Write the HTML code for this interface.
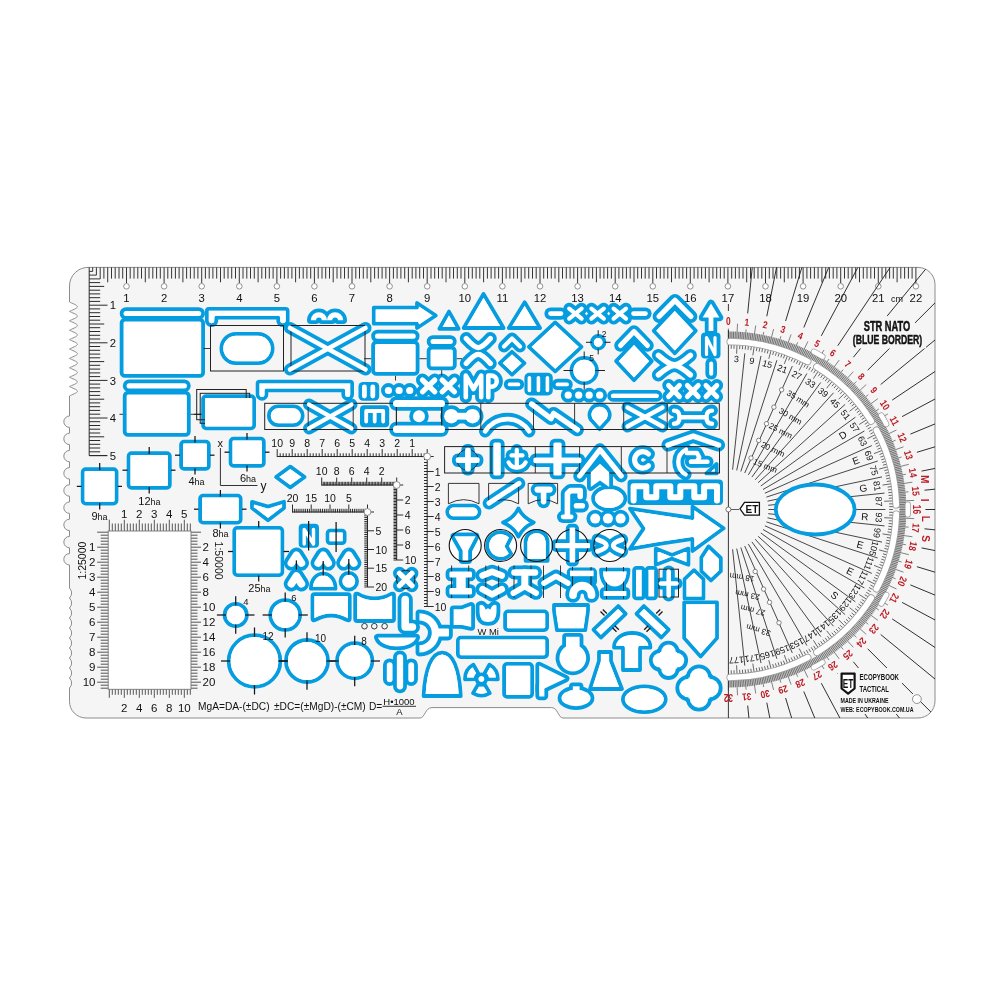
<!DOCTYPE html><html><head><meta charset="utf-8"><style>
html,body{margin:0;padding:0;background:#fff;width:1000px;height:1000px;overflow:hidden}
svg{display:block;will-change:transform}
.bs{fill:none;stroke:#059de0;stroke-width:3.8;stroke-linejoin:round}
.wf{fill:#fff;stroke:none}
.mk{fill:none;stroke:#000;stroke-width:3.8;stroke-linejoin:round}
text{font-family:"Liberation Sans",sans-serif}
</style></head><body>
<svg width="1000" height="1000" viewBox="0 0 1000 1000">
<defs><mask id="m" maskUnits="userSpaceOnUse" x="0" y="0" width="1000" height="1000"><rect width="1000" height="1000" fill="#fff"/><path class="mk" d="M206.9,321.2 V310.9 Q206.9,308.9 208.9,308.9 H285.6 Q287.6,308.9 287.6,310.9 V321.2 A4.7,4.7 0 0 1 278.3,321.2 V317.7 H216.2 V321.2 A4.7,4.7 0 0 1 206.9,321.2 Z"/>
<rect class="mk" x="221.4" y="333.9" width="51.2" height="29.2" rx="14.6"/>
<polygon class="mk" points="373.8,307.7 417,307.7 417,303 435.8,315.5 417,328 417,323.7 373.8,323.7"/>
<polygon class="mk" points="449,311.6 458.6,328.8 439.4,328.8"/>
<polygon class="mk" points="483.5,294 503.6,328 463.7,328"/>
<polygon class="mk" points="524.7,302.3 540,328 508.8,328"/>
<polygon class="mk" points="512,351.8 524.4,363.1 512,374.6 499.9,363.1"/>
<polygon class="mk" points="555.2,322.4 581.5,346.9 555.2,371.3 528.9,346.9"/>
<circle class="mk" cx="598.2" cy="342.3" r="6.3"/>
<circle class="mk" cx="584.2" cy="370.5" r="12.7"/>
<polygon class="mk" points="634,342.2 651.8,361.1 634,380.2 616.1,361.1"/>
<polygon class="mk" points="674.8,308.2 695.8,330.7 674.8,353.3 653.7,330.7"/>
<rect class="mk" x="609.1" y="391.9" width="51.5" height="7.9" rx="3.9"/>
<path class="mk" d="M257.6,394.4 V383.6 Q257.6,381.6 259.6,381.6 H350.1 Q352.1,381.6 352.1,383.6 V394.4 A4.4,4.4 0 0 1 343.3,394.4 V390.4 H266.4 V394.4 A4.4,4.4 0 0 1 257.6,394.4 Z"/>
<rect class="mk" x="268.9" y="406.4" width="33.7" height="18.7" rx="9.3"/>
<path class="mk" d="M599.6,429.2 L590.8,419.5 A10,10 0 1 1 608.4,419.5 Z"/>
<rect class="mk" x="82.7" y="469.1" width="33.8" height="34.5" rx="3"/>
<rect class="mk" x="128.6" y="453.1" width="41.2" height="34.7" rx="3"/>
<rect class="mk" x="181.1" y="441.7" width="27.7" height="27.1" rx="3"/>
<rect class="mk" x="230.6" y="438.7" width="33.2" height="27.1" rx="3"/>
<rect class="mk" x="203.1" y="396.1" width="51" height="32.2" rx="3"/>
<polygon class="mk" points="290.3,466.6 304.6,477 290.3,487.4 276.1,477"/>
<rect class="mk" x="200.1" y="495.6" width="40.5" height="27" rx="3"/>
<polygon class="mk" points="252,501.8 268,506.6 284,501.8 284,508 268,520.3 252,508"/>
<rect class="mk" x="234.3" y="527.9" width="48" height="47.2" rx="3"/>
<rect class="mk" x="327.6" y="530.6" width="17" height="12.5" rx="2.5"/>
<path class="mk" d="M310.9,588.7 H335.5 C335.5,579.5 330,573.7 323.2,573.7 C316.4,573.7 310.9,579.5 310.9,588.7 Z"/>
<circle class="mk" cx="348.8" cy="581.2" r="8.3"/>
<circle class="mk" cx="235.7" cy="615" r="11.1"/>
<circle class="mk" cx="285.2" cy="615" r="14.9"/>
<circle class="mk" cx="254.5" cy="661" r="25.8"/>
<circle class="mk" cx="307" cy="661" r="21"/>
<circle class="mk" cx="354.7" cy="660.8" r="17.6"/>
<path class="mk" d="M312.5,596.3 Q312.5,594.2 314.6,594.2 H347.6 Q349.7,594.2 349.7,596.3 V618.8 Q349.7,621 347,620 Q331,611 315,620 Q312.5,621 312.5,618.8 Z"/>
<path class="mk" d="M355.2,595.5 Q355.2,592.8 358,593.8 Q374.6,603 391.2,593.8 Q394,592.8 394,595.5 V618.9 Q394,621 391.9,621 H357.3 Q355.2,621 355.2,618.9 Z"/>
<path class="mk" d="M423.6,696 C425,668 432,652.7 442.2,652.7 C452.4,652.7 459.4,668 460.7,696 Z"/>
<path class="mk" d="M465,679.3 A16.4,16.4 0 0 1 473.4,664.7 L478.6,673.9 A5.8,5.8 0 0 0 475.6,679.1 Z"/>
<path class="mk" d="M489.4,664.7 A16.4,16.4 0 0 1 497.8,679.3 L487.2,679.1 A5.8,5.8 0 0 0 484.2,673.9 Z"/>
<path class="mk" d="M489.8,693.1 A16.4,16.4 0 0 1 473,693.1 L478.4,684 A5.8,5.8 0 0 0 484.4,684 Z"/>
<circle class="mk" cx="481.4" cy="679" r="4.7"/>
<rect class="mk" x="504.1" y="663.9" width="28" height="32.9" rx="3"/>
<rect class="mk" x="505.1" y="611.4" width="42" height="18.7" rx="3"/>
<rect class="mk" x="457.9" y="637.6" width="89.2" height="19.5" rx="3"/>
<polygon class="mk" points="554,605 588,605 588,610.5 585.2,630.2 557,630.2 554,610.5"/>
<path class="mk" d="M601,569.7 H628.5 C628.5,582 622.5,588.5 614.7,588.5 C607,588.5 601,582 601,569.7 Z"/>
<polygon class="mk" points="694,570.2 703.4,579.2 703.4,598.4 684.6,598.4 684.6,579.2"/>
<polygon class="mk" points="625.7,613.9 600.9,637.5 593.5,629.7 618.3,606.1"/>
<polygon class="mk" points="661.3,637.5 636.5,613.9 643.9,606.1 668.7,629.7"/>
<polygon class="mk" points="684.2,602.4 717,602.4 717,638 700.6,656.4 684.2,638"/>
<polygon class="mk" points="599,652 611,652 611,661 622,689 590,689 599,661"/>
<path class="mk" d="M614,647.6 C614,639 622,633 632.2,633 C642.4,633 650.4,639 650.4,647.6 H640 V670 H623 V647.6 Z"/>
<ellipse class="mk" cx="644.3" cy="699.2" rx="21.4" ry="12.9"/>
<path class="mk" d="M630,508.6 Q662,513.5 692.5,518 V506.6 L723.6,528.3 L692.5,551 V538.8 Q662,543 630,548.8 L643.6,528.6 Z"/>
<path class="mk" d="M655.8,548.6 L672,555 L688.4,548.6 V564.8 L672,558.6 L655.8,564.8 Z"/>
<polygon class="mk" points="708.6,546.4 720.8,558 720.8,571.2 711,580.4 701.4,571.2 701.4,557.5"/>
<ellipse class="mk" cx="609.2" cy="498.4" rx="16.1" ry="11.4"/>
<polygon class="mk" points="706.4,473.4 716.6,464 716.6,473.4"/>
<rect class="mk" x="447.3" y="505.7" width="32.2" height="12.4" rx="6.2"/>
<path class="mk" d="M518.4,508.4 Q523,518 533.8,522.4 Q523,527 518.4,536.6 Q514,527 503,522.4 Q514,518 518.4,508.4 Z"/>
<path class="mk" d="M511.1,537.3 A13.3,13.3 0 1 0 511.1,553.7 L506.6,546.3 Z"/>
<path class="mk" d="M525.6,560.8 V542 A11,11 0 0 1 547.6,542 V560.8 Z"/></mask></defs>
<rect width="1000" height="1000" fill="#fff"/>
<path d="M89,267.4 H918 A17,17 0 0 1 935,284.4 V701 A17,17 0 0 1 918,718 H563 C558,718 558,707.6 551.5,707.6 H432 C425,707.6 425,718 420,718 H86 A16.5,16.5 0 0 1 69.5,701.5 V688 Q73.8,683 69.5,678 Q73.8,673 69.5,668 Q73.8,663 69.5,658 Q73.8,653 69.5,648 Q73.8,643 69.5,638 Q73.8,633 69.5,628 Q73.8,623 69.5,618 Q73.8,613 69.5,608 Q73.8,603 69.5,598 Q73.8,593 69.5,588 V565 V565 A5.7,5.7 0 0 1 69.5,553.6 V547.8 A5.7,5.7 0 0 1 69.5,536.4 V530.6 A5.7,5.7 0 0 1 69.5,519.2 V513.4 A5.7,5.7 0 0 1 69.5,502 V496.2 A5.7,5.7 0 0 1 69.5,484.8 V479 A5.7,5.7 0 0 1 69.5,467.6 V461.8 A5.7,5.7 0 0 1 69.5,450.4 V444.6 A5.7,5.7 0 0 1 69.5,433.2 V427.4 A5.7,5.7 0 0 1 69.5,416 V396 C71.5,394.8 77.4,393 77.4,391.3 C77.4,389.6 71.5,387.8 69.5,386.6 C71.5,385.4 77.4,383.6 77.4,381.9 C77.4,380.2 71.5,378.4 69.5,377.2 C71.5,376 77.4,374.2 77.4,372.5 C77.4,370.8 71.5,369 69.5,367.8 C71.5,366.6 77.4,364.8 77.4,363.1 C77.4,361.4 71.5,359.6 69.5,358.4 C71.5,357.2 77.4,355.4 77.4,353.7 C77.4,352 71.5,350.2 69.5,349 C71.5,347.8 77.4,346 77.4,344.3 C77.4,342.6 71.5,340.8 69.5,339.6 C71.5,338.4 77.4,336.6 77.4,334.9 C77.4,333.2 71.5,331.4 69.5,330.2 C71.5,329 77.4,327.2 77.4,325.5 C77.4,323.8 71.5,322 69.5,320.8 C71.5,319.6 77.4,317.8 77.4,316.1 C77.4,314.4 71.5,312.6 69.5,311.4 C71.5,310.2 77.4,308.4 77.4,306.7 C77.4,305 71.5,303.2 69.5,302 V286 A18.6,18.6 0 0 1 89,267.4 Z" fill="#f5f5f5" stroke="#8c8c8c" stroke-width="1"/>
<path d="M92.7,267.4V271.4H89.2 M96.4,267.4V275.1H89.2 M100.2,267.4V278.9H89.2 M103.9,267.4V278.6 M107.7,267.4V282.3 M111.5,267.4V278.6 M115.2,267.4V278.6 M119,267.4V278.6 M122.7,267.4V278.6 M126.5,267.4V283 M130.2,267.4V278.6 M134,267.4V278.6 M137.8,267.4V278.6 M141.5,267.4V278.6 M145.3,267.4V282.3 M149,267.4V278.6 M152.8,267.4V278.6 M156.6,267.4V278.6 M160.3,267.4V278.6 M164.1,267.4V283 M167.8,267.4V278.6 M171.6,267.4V278.6 M175.4,267.4V278.6 M179.1,267.4V278.6 M182.9,267.4V282.3 M186.6,267.4V278.6 M190.4,267.4V278.6 M194.2,267.4V278.6 M197.9,267.4V278.6 M201.7,267.4V283 M205.4,267.4V278.6 M209.2,267.4V278.6 M212.9,267.4V278.6 M216.7,267.4V278.6 M220.5,267.4V282.3 M224.2,267.4V278.6 M228,267.4V278.6 M231.7,267.4V278.6 M235.5,267.4V278.6 M239.3,267.4V283 M243,267.4V278.6 M246.8,267.4V278.6 M250.5,267.4V278.6 M254.3,267.4V278.6 M258.1,267.4V282.3 M261.8,267.4V278.6 M265.6,267.4V278.6 M269.3,267.4V278.6 M273.1,267.4V278.6 M276.9,267.4V283 M280.6,267.4V278.6 M284.4,267.4V278.6 M288.1,267.4V278.6 M291.9,267.4V278.6 M295.6,267.4V282.3 M299.4,267.4V278.6 M303.2,267.4V278.6 M306.9,267.4V278.6 M310.7,267.4V278.6 M314.4,267.4V283 M318.2,267.4V278.6 M322,267.4V278.6 M325.7,267.4V278.6 M329.5,267.4V278.6 M333.2,267.4V282.3 M337,267.4V278.6 M340.8,267.4V278.6 M344.5,267.4V278.6 M348.3,267.4V278.6 M352,267.4V283 M355.8,267.4V278.6 M359.5,267.4V278.6 M363.3,267.4V278.6 M367.1,267.4V278.6 M370.8,267.4V282.3 M374.6,267.4V278.6 M378.3,267.4V278.6 M382.1,267.4V278.6 M385.9,267.4V278.6 M389.6,267.4V283 M393.4,267.4V278.6 M397.1,267.4V278.6 M400.9,267.4V278.6 M404.7,267.4V278.6 M408.4,267.4V282.3 M412.2,267.4V278.6 M415.9,267.4V278.6 M419.7,267.4V278.6 M423.5,267.4V278.6 M427.2,267.4V283 M431,267.4V278.6 M434.7,267.4V278.6 M438.5,267.4V278.6 M442.2,267.4V278.6 M446,267.4V282.3 M449.8,267.4V278.6 M453.5,267.4V278.6 M457.3,267.4V278.6 M461,267.4V278.6 M464.8,267.4V283 M468.6,267.4V278.6 M472.3,267.4V278.6 M476.1,267.4V278.6 M479.8,267.4V278.6 M483.6,267.4V282.3 M487.4,267.4V278.6 M491.1,267.4V278.6 M494.9,267.4V278.6 M498.6,267.4V278.6 M502.4,267.4V283 M506.1,267.4V278.6 M509.9,267.4V278.6 M513.7,267.4V278.6 M517.4,267.4V278.6 M521.2,267.4V282.3 M524.9,267.4V278.6 M528.7,267.4V278.6 M532.5,267.4V278.6 M536.2,267.4V278.6 M540,267.4V283 M543.7,267.4V278.6 M547.5,267.4V278.6 M551.3,267.4V278.6 M555,267.4V278.6 M558.8,267.4V282.3 M562.5,267.4V278.6 M566.3,267.4V278.6 M570.1,267.4V278.6 M573.8,267.4V278.6 M577.6,267.4V283 M581.3,267.4V278.6 M585.1,267.4V278.6 M588.8,267.4V278.6 M592.6,267.4V278.6 M596.4,267.4V282.3 M600.1,267.4V278.6 M603.9,267.4V278.6 M607.6,267.4V278.6 M611.4,267.4V278.6 M615.2,267.4V283 M618.9,267.4V278.6 M622.7,267.4V278.6 M626.4,267.4V278.6 M630.2,267.4V278.6 M634,267.4V282.3 M637.7,267.4V278.6 M641.5,267.4V278.6 M645.2,267.4V278.6 M649,267.4V278.6 M652.8,267.4V283 M656.5,267.4V278.6 M660.3,267.4V278.6 M664,267.4V278.6 M667.8,267.4V278.6 M671.5,267.4V282.3 M675.3,267.4V278.6 M679.1,267.4V278.6 M682.8,267.4V278.6 M686.6,267.4V278.6 M690.3,267.4V283 M694.1,267.4V278.6 M697.9,267.4V278.6 M701.6,267.4V278.6 M705.4,267.4V278.6 M709.1,267.4V282.3 M712.9,267.4V278.6 M716.7,267.4V278.6 M720.4,267.4V278.6 M724.2,267.4V278.6 M727.9,267.4V283 M731.7,267.4V278.6 M735.4,267.4V278.6 M739.2,267.4V278.6 M743,267.4V278.6 M746.7,267.4V282.3 M750.5,267.4V278.6 M754.2,267.4V278.6 M758,267.4V278.6 M761.8,267.4V278.6 M765.5,267.4V283 M769.3,267.4V278.6 M773,267.4V278.6 M776.8,267.4V278.6 M780.6,267.4V278.6 M784.3,267.4V282.3 M788.1,267.4V278.6 M791.8,267.4V278.6 M795.6,267.4V278.6 M799.4,267.4V278.6 M803.1,267.4V283 M806.9,267.4V278.6 M810.6,267.4V278.6 M814.4,267.4V278.6 M818.1,267.4V278.6 M821.9,267.4V282.3 M825.7,267.4V278.6 M829.4,267.4V278.6 M833.2,267.4V278.6 M836.9,267.4V278.6 M840.7,267.4V283 M844.5,267.4V278.6 M848.2,267.4V278.6 M852,267.4V278.6 M855.7,267.4V278.6 M859.5,267.4V282.3 M863.3,267.4V278.6 M867,267.4V278.6 M870.8,267.4V278.6 M874.5,267.4V278.6 M878.3,267.4V283 M882,267.4V278.6 M885.8,267.4V278.6 M889.6,267.4V278.6 M893.3,267.4V278.6 M897.1,267.4V282.3 M900.8,267.4V278.6 M904.6,267.4V278.6 M908.4,267.4V278.6 M912.1,267.4V278.6 M915.9,267.4V283" stroke="#2a2a2a" stroke-width="0.95" fill="none"/>
<circle cx="126.5" cy="286.3" r="2.8" fill="#fff" stroke="#777" stroke-width="0.8"/>
<text x="126.5" y="302" font-size="11.3" text-anchor="middle" fill="#111" font-weight="normal" font-family="Liberation Sans" >1</text>
<circle cx="164.1" cy="286.3" r="2.8" fill="#fff" stroke="#777" stroke-width="0.8"/>
<text x="164.1" y="302" font-size="11.3" text-anchor="middle" fill="#111" font-weight="normal" font-family="Liberation Sans" >2</text>
<circle cx="201.7" cy="286.3" r="2.8" fill="#fff" stroke="#777" stroke-width="0.8"/>
<text x="201.7" y="302" font-size="11.3" text-anchor="middle" fill="#111" font-weight="normal" font-family="Liberation Sans" >3</text>
<circle cx="239.3" cy="286.3" r="2.8" fill="#fff" stroke="#777" stroke-width="0.8"/>
<text x="239.3" y="302" font-size="11.3" text-anchor="middle" fill="#111" font-weight="normal" font-family="Liberation Sans" >4</text>
<circle cx="276.9" cy="286.3" r="2.8" fill="#fff" stroke="#777" stroke-width="0.8"/>
<text x="276.9" y="302" font-size="11.3" text-anchor="middle" fill="#111" font-weight="normal" font-family="Liberation Sans" >5</text>
<circle cx="314.4" cy="286.3" r="2.8" fill="#fff" stroke="#777" stroke-width="0.8"/>
<text x="314.4" y="302" font-size="11.3" text-anchor="middle" fill="#111" font-weight="normal" font-family="Liberation Sans" >6</text>
<circle cx="352" cy="286.3" r="2.8" fill="#fff" stroke="#777" stroke-width="0.8"/>
<text x="352" y="302" font-size="11.3" text-anchor="middle" fill="#111" font-weight="normal" font-family="Liberation Sans" >7</text>
<circle cx="389.6" cy="286.3" r="2.8" fill="#fff" stroke="#777" stroke-width="0.8"/>
<text x="389.6" y="302" font-size="11.3" text-anchor="middle" fill="#111" font-weight="normal" font-family="Liberation Sans" >8</text>
<circle cx="427.2" cy="286.3" r="2.8" fill="#fff" stroke="#777" stroke-width="0.8"/>
<text x="427.2" y="302" font-size="11.3" text-anchor="middle" fill="#111" font-weight="normal" font-family="Liberation Sans" >9</text>
<circle cx="464.8" cy="286.3" r="2.8" fill="#fff" stroke="#777" stroke-width="0.8"/>
<text x="464.8" y="302" font-size="11.3" text-anchor="middle" fill="#111" font-weight="normal" font-family="Liberation Sans" >10</text>
<circle cx="502.4" cy="286.3" r="2.8" fill="#fff" stroke="#777" stroke-width="0.8"/>
<text x="502.4" y="302" font-size="11.3" text-anchor="middle" fill="#111" font-weight="normal" font-family="Liberation Sans" >11</text>
<circle cx="540" cy="286.3" r="2.8" fill="#fff" stroke="#777" stroke-width="0.8"/>
<text x="540" y="302" font-size="11.3" text-anchor="middle" fill="#111" font-weight="normal" font-family="Liberation Sans" >12</text>
<circle cx="577.6" cy="286.3" r="2.8" fill="#fff" stroke="#777" stroke-width="0.8"/>
<text x="577.6" y="302" font-size="11.3" text-anchor="middle" fill="#111" font-weight="normal" font-family="Liberation Sans" >13</text>
<circle cx="615.2" cy="286.3" r="2.8" fill="#fff" stroke="#777" stroke-width="0.8"/>
<text x="615.2" y="302" font-size="11.3" text-anchor="middle" fill="#111" font-weight="normal" font-family="Liberation Sans" >14</text>
<circle cx="652.8" cy="286.3" r="2.8" fill="#fff" stroke="#777" stroke-width="0.8"/>
<text x="652.8" y="302" font-size="11.3" text-anchor="middle" fill="#111" font-weight="normal" font-family="Liberation Sans" >15</text>
<circle cx="690.3" cy="286.3" r="2.8" fill="#fff" stroke="#777" stroke-width="0.8"/>
<text x="690.3" y="302" font-size="11.3" text-anchor="middle" fill="#111" font-weight="normal" font-family="Liberation Sans" >16</text>
<circle cx="727.9" cy="286.3" r="2.8" fill="#fff" stroke="#777" stroke-width="0.8"/>
<text x="727.9" y="302" font-size="11.3" text-anchor="middle" fill="#111" font-weight="normal" font-family="Liberation Sans" >17</text>
<circle cx="765.5" cy="286.3" r="2.8" fill="#fff" stroke="#777" stroke-width="0.8"/>
<text x="765.5" y="302" font-size="11.3" text-anchor="middle" fill="#111" font-weight="normal" font-family="Liberation Sans" >18</text>
<circle cx="803.1" cy="286.3" r="2.8" fill="#fff" stroke="#777" stroke-width="0.8"/>
<text x="803.1" y="302" font-size="11.3" text-anchor="middle" fill="#111" font-weight="normal" font-family="Liberation Sans" >19</text>
<circle cx="840.7" cy="286.3" r="2.8" fill="#fff" stroke="#777" stroke-width="0.8"/>
<text x="840.7" y="302" font-size="11.3" text-anchor="middle" fill="#111" font-weight="normal" font-family="Liberation Sans" >20</text>
<circle cx="878.3" cy="286.3" r="2.8" fill="#fff" stroke="#777" stroke-width="0.8"/>
<text x="878.3" y="302" font-size="11.3" text-anchor="middle" fill="#111" font-weight="normal" font-family="Liberation Sans" >21</text>
<circle cx="915.9" cy="286.3" r="2.8" fill="#fff" stroke="#777" stroke-width="0.8"/>
<text x="915.9" y="302" font-size="11.3" text-anchor="middle" fill="#111" font-weight="normal" font-family="Liberation Sans" >22</text>
<text x="897" y="302" font-size="9" text-anchor="middle" fill="#111" font-weight="normal" font-family="Liberation Sans" >cm</text>
<path d="M89.2,267.4V455.6H107 M89.2,282.6H100.2 M89.2,286.4H104.2 M89.2,290.2H100.2 M89.2,293.9H100.2 M89.2,297.7H100.2 M89.2,301.4H100.2 M89.2,305.2H107.5 M89.2,308.9H100.2 M89.2,312.7H100.2 M89.2,316.5H100.2 M89.2,320.2H100.2 M89.2,324H104.2 M89.2,327.7H100.2 M89.2,331.5H100.2 M89.2,335.3H100.2 M89.2,339H100.2 M89.2,342.8H107.5 M89.2,346.5H100.2 M89.2,350.3H100.2 M89.2,354.1H100.2 M89.2,357.8H100.2 M89.2,361.6H104.2 M89.2,365.3H100.2 M89.2,369.1H100.2 M89.2,372.9H100.2 M89.2,376.6H100.2 M89.2,380.4H107.5 M89.2,384.1H100.2 M89.2,387.9H100.2 M89.2,391.6H100.2 M89.2,395.4H100.2 M89.2,399.2H104.2 M89.2,402.9H100.2 M89.2,406.7H100.2 M89.2,410.4H100.2 M89.2,414.2H100.2 M89.2,418H107.5 M89.2,421.7H100.2 M89.2,425.5H100.2 M89.2,429.2H100.2 M89.2,433H100.2 M89.2,436.8H104.2 M89.2,440.5H100.2 M89.2,444.3H100.2 M89.2,448H100.2 M89.2,451.8H100.2 M89.2,455.6H107.5" stroke="#2a2a2a" stroke-width="1" fill="none"/>
<text x="113" y="309.3" font-size="11.3" text-anchor="middle" fill="#111" font-weight="normal" font-family="Liberation Sans" >1</text>
<text x="113" y="346.9" font-size="11.3" text-anchor="middle" fill="#111" font-weight="normal" font-family="Liberation Sans" >2</text>
<text x="113" y="384.5" font-size="11.3" text-anchor="middle" fill="#111" font-weight="normal" font-family="Liberation Sans" >3</text>
<text x="113" y="422.1" font-size="11.3" text-anchor="middle" fill="#111" font-weight="normal" font-family="Liberation Sans" >4</text>
<text x="113" y="459.7" font-size="11.3" text-anchor="middle" fill="#111" font-weight="normal" font-family="Liberation Sans" >5</text>
<clipPath id="pc"><path d="M89,267.4 H918 A17,17 0 0 1 935,284.4 V701 A17,17 0 0 1 918,718 H563 C558,718 558,707.6 551.5,707.6 H432 C425,707.6 425,718 420,718 H86 A16.5,16.5 0 0 1 69.5,701.5 V688 Q73.8,683 69.5,678 Q73.8,673 69.5,668 Q73.8,663 69.5,658 Q73.8,653 69.5,648 Q73.8,643 69.5,638 Q73.8,633 69.5,628 Q73.8,623 69.5,618 Q73.8,613 69.5,608 Q73.8,603 69.5,598 Q73.8,593 69.5,588 V565 V565 A5.7,5.7 0 0 1 69.5,553.6 V547.8 A5.7,5.7 0 0 1 69.5,536.4 V530.6 A5.7,5.7 0 0 1 69.5,519.2 V513.4 A5.7,5.7 0 0 1 69.5,502 V496.2 A5.7,5.7 0 0 1 69.5,484.8 V479 A5.7,5.7 0 0 1 69.5,467.6 V461.8 A5.7,5.7 0 0 1 69.5,450.4 V444.6 A5.7,5.7 0 0 1 69.5,433.2 V427.4 A5.7,5.7 0 0 1 69.5,416 V396 C71.5,394.8 77.4,393 77.4,391.3 C77.4,389.6 71.5,387.8 69.5,386.6 C71.5,385.4 77.4,383.6 77.4,381.9 C77.4,380.2 71.5,378.4 69.5,377.2 C71.5,376 77.4,374.2 77.4,372.5 C77.4,370.8 71.5,369 69.5,367.8 C71.5,366.6 77.4,364.8 77.4,363.1 C77.4,361.4 71.5,359.6 69.5,358.4 C71.5,357.2 77.4,355.4 77.4,353.7 C77.4,352 71.5,350.2 69.5,349 C71.5,347.8 77.4,346 77.4,344.3 C77.4,342.6 71.5,340.8 69.5,339.6 C71.5,338.4 77.4,336.6 77.4,334.9 C77.4,333.2 71.5,331.4 69.5,330.2 C71.5,329 77.4,327.2 77.4,325.5 C77.4,323.8 71.5,322 69.5,320.8 C71.5,319.6 77.4,317.8 77.4,316.1 C77.4,314.4 71.5,312.6 69.5,311.4 C71.5,310.2 77.4,308.4 77.4,306.7 C77.4,305 71.5,303.2 69.5,302 V286 A18.6,18.6 0 0 1 89,267.4 Z"/></clipPath>
<path d="M747.7,313.4L769.6,91.5M766.8,316.3L810.3,97.6M785.6,321L850.3,107.6M803.8,327.5L889.1,121.5M821.3,335.8L926.4,139.1M837.8,345.7L961.7,160.3M853.4,357.2L994.8,184.8M867.7,370.2L1025.4,212.5M880.7,384.5L1053.1,243.1M892.2,400.1L1077.6,276.2M902.1,416.6L1098.8,311.5M910.4,434.1L1116.4,348.8M916.9,452.3L1130.3,387.6M921.6,471.1L1140.3,427.6M924.5,490.2L1146.4,468.3M925.4,509.5L1148.4,509.5M924.5,528.8L1146.4,550.7M921.6,547.9L1140.3,591.4M916.9,566.7L1130.3,631.4M910.4,584.9L1116.4,670.2M902.1,602.4L1098.8,707.5M892.2,618.9L1077.6,742.8M880.7,634.5L1053.1,775.9M867.7,648.8L1025.4,806.5M853.4,661.8L994.8,834.2M837.8,673.3L961.7,858.7M821.3,683.2L926.4,879.9M803.8,691.5L889.1,897.5M785.6,698L850.3,911.4M766.8,702.7L810.3,921.4M747.7,705.6L769.6,927.5" stroke="#1a1a1a" stroke-width="0.9" fill="none" clip-path="url(#pc)"/>
<path d="M732.6,469.7L744.8,353.4M736.7,470.4L761,355.9M740.8,471.5L776.9,360.2M744.7,473L792.3,366.1M748.4,474.9L806.9,373.5M751.9,477.1L820.7,382.5M755.2,479.8L833.5,392.8M758.1,482.7L845.1,404.4M760.8,486L855.4,417.2M763,489.5L864.4,431M764.9,493.2L871.8,445.6M766.4,497.1L877.7,461M767.5,501.2L882,476.9M768.2,505.3L884.5,493.1M768.4,509.5L885.4,509.5M768.2,513.7L884.5,525.9M767.5,517.8L882,542.1M766.4,521.9L877.7,558M764.9,525.8L871.8,573.4M763,529.5L864.4,588M760.8,533L855.4,601.8M758.1,536.3L845.1,614.6M755.2,539.2L833.5,626.2M751.9,541.9L820.7,636.5M748.4,544.1L806.9,645.5M744.7,546L792.3,652.9M740.8,547.5L776.9,658.8M736.7,548.6L761,663.1M732.6,549.3L744.8,665.6" stroke="#1a1a1a" stroke-width="0.8" fill="none"/>
<path d="M731.2,348.7L731.3,345M734,348.8L734.1,345.1M736.6,353.7L737,345.2M739.6,349.1L739.9,345.4M742.4,349.3L742.7,345.6M745.2,349.6L745.6,345.9M748,349.9L748.4,346.2M750.8,350.3L751.3,346.6M752.8,355.4L754.1,347M756.3,351.1L757,347.5M759.1,351.7L759.8,348M761.8,352.2L762.6,348.6M764.6,352.8L765.4,349.2M767.3,353.5L768.2,349.9M768.8,358.8L771,350.6M772.7,354.9L773.7,351.4M775.4,355.7L776.5,352.2M778.1,356.6L779.2,353.1M780.8,357.5L782,354M783.4,358.4L784.7,354.9M784.3,363.9L787.4,355.9M788.6,360.4L790,357M791.2,361.5L792.7,358.1M793.8,362.6L795.3,359.2M796.4,363.8L797.9,360.4M798.9,365L800.5,361.6M799.2,370.5L803.1,362.9M803.9,367.5L805.6,364.3M806.4,368.9L808.2,365.6M808.8,370.2L810.6,367M811.2,371.7L813.1,368.5M813.6,373.1L815.6,370M813.4,378.7L818,371.5M818.3,376.2L820.4,373.1M820.6,377.8L822.8,374.7M822.9,379.4L825.1,376.4M825.2,381.1L827.4,378.1M827.4,382.8L829.7,379.9M826.6,388.3L831.9,381.7M831.8,386.3L834.1,383.5M833.9,388.1L836.3,385.4M836,390L838.5,387.3M838.1,391.9L840.6,389.2M840.1,393.8L842.7,391.2M838.7,399.2L844.7,393.2M844.1,397.8L846.7,395.2M846,399.8L848.7,397.3M847.9,401.9L850.6,399.4M849.8,404L852.5,401.6M851.6,406.1L854.4,403.8M849.6,411.3L856.2,406M855.1,410.5L858,408.2M856.8,412.7L859.8,410.5M858.5,415L861.5,412.8M860.1,417.3L863.2,415.1M861.7,419.6L864.8,417.5M859.2,424.5L866.4,419.9M864.8,424.3L867.9,422.3M866.2,426.7L869.4,424.8M867.7,429.1L870.9,427.2M869,431.5L872.3,429.7M870.4,434L873.6,432.3M867.4,438.7L875,434.8M872.9,439L876.3,437.4M874.1,441.5L877.5,440M875.3,444.1L878.7,442.6M876.4,446.7L879.8,445.2M877.5,449.3L880.9,447.9M874,453.6L882,450.5M879.5,454.5L883,453.2M880.4,457.1L883.9,455.9M881.3,459.8L884.8,458.7M882.2,462.5L885.7,461.4M883,465.2L886.5,464.2M879.1,469.1L887.3,466.9M884.4,470.6L888,469.7M885.1,473.3L888.7,472.5M885.7,476.1L889.3,475.3M886.2,478.8L889.9,478.1M886.8,481.6L890.4,480.9M882.5,485.1L890.9,483.8M887.6,487.1L891.3,486.6M888,489.9L891.7,489.5M888.3,492.7L892,492.3M888.6,495.5L892.3,495.2M888.8,498.3L892.5,498M884.2,501.3L892.7,500.9M889.1,503.9L892.8,503.8M889.2,506.7L892.9,506.6M889.2,509.5L892.9,509.5M889.2,512.3L892.9,512.4M889.1,515.1L892.8,515.2M884.2,517.7L892.7,518.1M888.8,520.7L892.5,521M888.6,523.5L892.3,523.8M888.3,526.3L892,526.7M888,529.1L891.7,529.5M887.6,531.9L891.3,532.4M882.5,533.9L890.9,535.2M886.8,537.4L890.4,538.1M886.2,540.2L889.9,540.9M885.7,542.9L889.3,543.7M885.1,545.7L888.7,546.5M884.4,548.4L888,549.3M879.1,549.9L887.3,552.1M883,553.8L886.5,554.8M882.2,556.5L885.7,557.6M881.3,559.2L884.8,560.3M880.4,561.9L883.9,563.1M879.5,564.5L883,565.8M874,565.4L882,568.5M877.5,569.7L880.9,571.1M876.4,572.3L879.8,573.8M875.3,574.9L878.7,576.4M874.1,577.5L877.5,579M872.9,580L876.3,581.6M867.4,580.3L875,584.2M870.4,585L873.6,586.7M869,587.5L872.3,589.3M867.7,589.9L870.9,591.8M866.2,592.3L869.4,594.2M864.8,594.7L867.9,596.7M859.2,594.5L866.4,599.1M861.7,599.4L864.8,601.5M860.1,601.7L863.2,603.9M858.5,604L861.5,606.2M856.8,606.3L859.8,608.5M855.1,608.5L858,610.8M849.6,607.7L856.2,613M851.6,612.9L854.4,615.2M849.8,615L852.5,617.4M847.9,617.1L850.6,619.6M846,619.2L848.7,621.7M844.1,621.2L846.7,623.8M838.7,619.8L844.7,625.8M840.1,625.2L842.7,627.8M838.1,627.1L840.6,629.8M836,629L838.5,631.7M833.9,630.9L836.3,633.6M831.8,632.7L834.1,635.5M826.6,630.7L831.9,637.3M827.4,636.2L829.7,639.1M825.2,637.9L827.4,640.9M822.9,639.6L825.1,642.6M820.6,641.2L822.8,644.3M818.3,642.8L820.4,645.9M813.4,640.3L818,647.5M813.6,645.9L815.6,649M811.2,647.3L813.1,650.5M808.8,648.8L810.6,652M806.4,650.1L808.2,653.4M803.9,651.5L805.6,654.7M799.2,648.5L803.1,656.1M798.9,654L800.5,657.4M796.4,655.2L797.9,658.6M793.8,656.4L795.3,659.8M791.2,657.5L792.7,660.9M788.6,658.6L790,662M784.3,655.1L787.4,663.1M783.4,660.6L784.7,664.1M780.8,661.5L782,665M778.1,662.4L779.2,665.9M775.4,663.3L776.5,666.8M772.7,664.1L773.7,667.6M768.8,660.2L771,668.4M767.3,665.5L768.2,669.1M764.6,666.2L765.4,669.8M761.8,666.8L762.6,670.4M759.1,667.3L759.8,671M756.3,667.9L757,671.5M752.8,663.6L754.1,672M750.8,668.7L751.3,672.4M748,669.1L748.4,672.8M745.2,669.4L745.6,673.1M742.4,669.7L742.7,673.4M739.6,669.9L739.9,673.6M736.6,665.3L737,673.8M734,670.2L734.1,673.9M731.2,670.3L731.3,674" stroke="#2a2a2a" stroke-width="0.7" fill="none"/>
<path d="M728.4,334.9A174.6,174.6 0 0 1 728.4,684.1" fill="none" stroke="#cdcdcd" stroke-width="6.6"/>
<path d="M728.4,338.5L728.4,328.5M730.1,338.5L730.1,331.5M731.8,338.5L731.9,331.5M733.4,338.6L733.6,331.6M735.1,338.6L735.4,331.6M736.8,338.7L737.5,323.7M738.5,338.8L738.9,331.8M740.1,338.9L740.6,331.9M741.8,339L742.4,332M743.5,339.2L744.1,332.2M745.2,339.3L746.1,329.4M746.8,339.5L747.6,332.5M748.5,339.7L749.3,332.7M750.2,339.9L751.1,332.9M751.8,340.1L752.8,333.2M753.5,340.4L755.7,325.5M755.2,340.6L756.2,333.7M756.8,340.9L758,334M758.5,341.2L759.7,334.3M760.1,341.5L761.4,334.6M761.8,341.8L763.7,332M763.4,342.1L764.8,335.3M765,342.5L766.5,335.6M766.7,342.8L768.3,336M768.3,343.2L770,336.4M769.9,343.6L773.6,329.1M771.6,344L773.3,337.3M773.2,344.5L775,337.7M774.8,344.9L776.7,338.2M776.4,345.4L778.4,338.7M778,345.9L780.9,336.3M779.6,346.4L781.7,339.7M781.2,346.9L783.4,340.2M782.8,347.4L785.1,340.8M784.4,347.9L786.7,341.3M786,348.5L791.1,334.4M787.6,349.1L790,342.5M789.2,349.7L791.6,343.1M790.7,350.3L793.3,343.7M792.3,350.9L794.9,344.4M793.8,351.5L797.7,342.3M795.4,352.2L798.1,345.7M796.9,352.8L799.7,346.4M798.5,353.5L801.3,347.1M800,354.2L802.9,347.9M801.5,354.9L807.9,341.4M803,355.6L806.1,349.3M804.5,356.4L807.6,350.1M806,357.1L809.2,350.9M807.5,357.9L810.8,351.7M809,358.7L813.7,349.9M810.5,359.5L813.8,353.3M812,360.3L815.4,354.2M813.4,361.1L816.9,355.1M814.9,362L818.4,355.9M816.3,362.8L824,350M817.7,363.7L821.4,357.7M819.2,364.6L822.9,358.7M820.6,365.5L824.4,359.6M822,366.4L825.8,360.5M823.4,367.3L829,359M824.8,368.3L828.7,362.5M826.2,369.2L830.2,363.5M827.5,370.2L831.6,364.5M828.9,371.2L833,365.5M830.3,372.2L839.2,360.1M831.6,373.2L835.8,367.6M832.9,374.2L837.2,368.6M834.3,375.2L838.6,369.7M835.6,376.3L840,370.8M836.9,377.3L843.2,369.6M838.2,378.4L842.7,373M839.5,379.5L844,374.1M840.7,380.6L845.3,375.3M842,381.7L846.6,376.4M843.2,382.8L853.3,371.7M844.5,383.9L849.2,378.8M845.7,385.1L850.5,380M846.9,386.2L851.8,381.2M848.1,387.4L853,382.4M849.3,388.6L856.4,381.5M850.5,389.8L855.5,384.9M851.7,391L856.7,386.1M852.8,392.2L857.9,387.4M854,393.4L859.1,388.7M855.1,394.7L866.2,384.6M856.2,395.9L861.5,391.3M857.3,397.2L862.6,392.6M858.4,398.4L863.8,393.9M859.5,399.7L864.9,395.2M860.6,401L868.3,394.7M861.6,402.3L867.1,397.9M862.7,403.6L868.2,399.3M863.7,405L869.3,400.7M864.7,406.3L870.3,402.1M865.7,407.6L877.8,398.7M866.7,409L872.4,404.9M867.7,410.4L873.4,406.3M868.7,411.7L874.4,407.7M869.6,413.1L875.4,409.2M870.6,414.5L878.9,408.9M871.5,415.9L877.4,412.1M872.4,417.3L878.3,413.5M873.3,418.7L879.2,415M874.2,420.2L880.2,416.5M875.1,421.6L887.9,413.9M875.9,423L882,419.5M876.8,424.5L882.8,421M877.6,425.9L883.7,422.5M878.4,427.4L884.6,424.1M879.2,428.9L888,424.2M880,430.4L886.2,427.1M880.8,431.9L887,428.7M881.5,433.4L887.8,430.3M882.3,434.9L888.6,431.8M883,436.4L896.5,430M883.7,437.9L890,435M884.4,439.4L890.8,436.6M885.1,441L891.5,438.2M885.7,442.5L892.2,439.8M886.4,444.1L895.6,440.2M887,445.6L893.5,443M887.6,447.2L894.2,444.6M888.2,448.7L894.8,446.3M888.8,450.3L895.4,447.9M889.4,451.9L903.5,446.8M890,453.5L896.6,451.2M890.5,455.1L897.1,452.8M891,456.7L897.7,454.5M891.5,458.3L898.2,456.2M892,459.9L901.6,457M892.5,461.5L899.2,459.5M893,463.1L899.7,461.2M893.4,464.7L900.2,462.9M893.9,466.3L900.6,464.6M894.3,468L908.8,464.3M894.7,469.6L901.5,467.9M895.1,471.2L901.9,469.6M895.4,472.9L902.3,471.4M895.8,474.5L902.6,473.1M896.1,476.1L905.9,474.2M896.4,477.8L903.3,476.5M896.7,479.4L903.6,478.2M897,481.1L903.9,479.9M897.3,482.7L904.2,481.7M897.5,484.4L912.4,482.2M897.8,486.1L904.7,485.1M898,487.7L905,486.8M898.2,489.4L905.2,488.6M898.4,491.1L905.4,490.3M898.6,492.7L908.5,491.8M898.7,494.4L905.7,493.8M898.9,496.1L905.9,495.5M899,497.8L906,497.3M899.1,499.4L906.1,499M899.2,501.1L914.2,500.4M899.3,502.8L906.3,502.5M899.3,504.5L906.3,504.3M899.4,506.1L906.4,506M899.4,507.8L906.4,507.8M899.4,509.5L909.4,509.5M899.4,511.2L906.4,511.2M899.4,512.9L906.4,513M899.3,514.5L906.3,514.7M899.3,516.2L906.3,516.5M899.2,517.9L914.2,518.6M899.1,519.6L906.1,520M899,521.2L906,521.7M898.9,522.9L905.9,523.5M898.7,524.6L905.7,525.2M898.6,526.3L908.5,527.2M898.4,527.9L905.4,528.7M898.2,529.6L905.2,530.4M898,531.3L905,532.2M897.8,532.9L904.7,533.9M897.5,534.6L912.4,536.8M897.3,536.3L904.2,537.3M897,537.9L903.9,539.1M896.7,539.6L903.6,540.8M896.4,541.2L903.3,542.5M896.1,542.9L905.9,544.8M895.8,544.5L902.6,545.9M895.4,546.1L902.3,547.6M895.1,547.8L901.9,549.4M894.7,549.4L901.5,551.1M894.3,551L908.8,554.7M893.9,552.7L900.6,554.4M893.4,554.3L900.2,556.1M893,555.9L899.7,557.8M892.5,557.5L899.2,559.5M892,559.1L901.6,562M891.5,560.7L898.2,562.8M891,562.3L897.7,564.5M890.5,563.9L897.1,566.2M890,565.5L896.6,567.8M889.4,567.1L903.5,572.2M888.8,568.7L895.4,571.1M888.2,570.3L894.8,572.7M887.6,571.8L894.2,574.4M887,573.4L893.5,576M886.4,574.9L895.6,578.8M885.7,576.5L892.2,579.2M885.1,578L891.5,580.8M884.4,579.6L890.8,582.4M883.7,581.1L890,584M883,582.6L896.5,589M882.3,584.1L888.6,587.2M881.5,585.6L887.8,588.7M880.8,587.1L887,590.3M880,588.6L886.2,591.9M879.2,590.1L888,594.8M878.4,591.6L884.6,594.9M877.6,593.1L883.7,596.5M876.8,594.5L882.8,598M875.9,596L882,599.5M875.1,597.4L887.9,605.1M874.2,598.8L880.2,602.5M873.3,600.3L879.2,604M872.4,601.7L878.3,605.5M871.5,603.1L877.4,606.9M870.6,604.5L878.9,610.1M869.6,605.9L875.4,609.8M868.7,607.3L874.4,611.3M867.7,608.6L873.4,612.7M866.7,610L872.4,614.1M865.7,611.4L877.8,620.3M864.7,612.7L870.3,616.9M863.7,614L869.3,618.3M862.7,615.4L868.2,619.7M861.6,616.7L867.1,621.1M860.6,618L868.3,624.3M859.5,619.3L864.9,623.8M858.4,620.6L863.8,625.1M857.3,621.8L862.6,626.4M856.2,623.1L861.5,627.7M855.1,624.3L866.2,634.4M854,625.6L859.1,630.3M852.8,626.8L857.9,631.6M851.7,628L856.7,632.9M850.5,629.2L855.5,634.1M849.3,630.4L856.4,637.5M848.1,631.6L853,636.6M846.9,632.8L851.8,637.8M845.7,633.9L850.5,639M844.5,635.1L849.2,640.2M843.2,636.2L853.3,647.3M842,637.3L846.6,642.6M840.7,638.4L845.3,643.7M839.5,639.5L844,644.9M838.2,640.6L842.7,646M836.9,641.7L843.2,649.4M835.6,642.7L840,648.2M834.3,643.8L838.6,649.3M832.9,644.8L837.2,650.4M831.6,645.8L835.8,651.4M830.3,646.8L839.2,658.9M828.9,647.8L833,653.5M827.5,648.8L831.6,654.5M826.2,649.8L830.2,655.5M824.8,650.7L828.7,656.5M823.4,651.7L829,660M822,652.6L825.8,658.5M820.6,653.5L824.4,659.4M819.2,654.4L822.9,660.3M817.7,655.3L821.4,661.3M816.3,656.2L824,669M814.9,657L818.4,663.1M813.4,657.9L816.9,663.9M812,658.7L815.4,664.8M810.5,659.5L813.8,665.7M809,660.3L813.7,669.1M807.5,661.1L810.8,667.3M806,661.9L809.2,668.1M804.5,662.6L807.6,668.9M803,663.4L806.1,669.7M801.5,664.1L807.9,677.6M800,664.8L802.9,671.1M798.5,665.5L801.3,671.9M796.9,666.2L799.7,672.6M795.4,666.8L798.1,673.3M793.8,667.5L797.7,676.7M792.3,668.1L794.9,674.6M790.7,668.7L793.3,675.3M789.2,669.3L791.6,675.9M787.6,669.9L790,676.5M786,670.5L791.1,684.6M784.4,671.1L786.7,677.7M782.8,671.6L785.1,678.2M781.2,672.1L783.4,678.8M779.6,672.6L781.7,679.3M778,673.1L780.9,682.7M776.4,673.6L778.4,680.3M774.8,674.1L776.7,680.8M773.2,674.5L775,681.3M771.6,675L773.3,681.7M769.9,675.4L773.6,689.9M768.3,675.8L770,682.6M766.7,676.2L768.3,683M765,676.5L766.5,683.4M763.4,676.9L764.8,683.7M761.8,677.2L763.7,687M760.1,677.5L761.4,684.4M758.5,677.8L759.7,684.7M756.8,678.1L758,685M755.2,678.4L756.2,685.3M753.5,678.6L755.7,693.5M751.8,678.9L752.8,685.8M750.2,679.1L751.1,686.1M748.5,679.3L749.3,686.3M746.8,679.5L747.6,686.5M745.2,679.7L746.1,689.6M743.5,679.8L744.1,686.8M741.8,680L742.4,687M740.1,680.1L740.6,687.1M738.5,680.2L738.9,687.2M736.8,680.3L737.5,695.3M735.1,680.4L735.4,687.4M733.4,680.4L733.6,687.4M731.8,680.5L731.9,687.5M730.1,680.5L730.1,687.5M728.4,680.5L728.4,690.5" stroke="#333" stroke-width="0.6" fill="none"/>
<path d="M728.4,330V718M728.4,304V311" stroke="#222" stroke-width="0.9"/>
<path d="M730.2,341.6A167.9,167.9 0 0 1 807.7,361.5M816.9,366.8A167.9,167.9 0 0 1 871.1,421M876.4,430.2A167.9,167.9 0 0 1 896.2,504.8M896.2,514.2A167.9,167.9 0 0 1 876.4,588.8M871.1,598A167.9,167.9 0 0 1 816.9,652.2M807.7,657.5A167.9,167.9 0 0 1 730.2,677.4" fill="none" stroke="#999" stroke-width="7.4" stroke-linecap="round"/>
<path d="M730.2,341.6A167.9,167.9 0 0 1 807.7,361.5M816.9,366.8A167.9,167.9 0 0 1 871.1,421M876.4,430.2A167.9,167.9 0 0 1 896.2,504.8M896.2,514.2A167.9,167.9 0 0 1 876.4,588.8M871.1,598A167.9,167.9 0 0 1 816.9,652.2M807.7,657.5A167.9,167.9 0 0 1 730.2,677.4" fill="none" stroke="#fff" stroke-width="5.8" stroke-linecap="round"/>
<path d="M813.8,351.6A179.5,179.5 0 0 1 822.5,356.6M881.3,415.4A179.5,179.5 0 0 1 886.3,424.1M907.8,504.5A179.5,179.5 0 0 1 907.8,514.5M886.3,594.9A179.5,179.5 0 0 1 881.3,603.6M822.5,662.4A179.5,179.5 0 0 1 813.8,667.4" fill="none" stroke="#999" stroke-width="6" stroke-linecap="round"/>
<path d="M813.8,351.6A179.5,179.5 0 0 1 822.5,356.6M881.3,415.4A179.5,179.5 0 0 1 886.3,424.1M907.8,504.5A179.5,179.5 0 0 1 907.8,514.5M886.3,594.9A179.5,179.5 0 0 1 881.3,603.6M822.5,662.4A179.5,179.5 0 0 1 813.8,667.4" fill="none" stroke="#fff" stroke-width="4.6" stroke-linecap="round"/>
<text x="0" y="0" font-size="10" font-weight="bold" fill="#bb1d24" text-anchor="middle" dominant-baseline="central" transform="translate(728.4,321.5) rotate(0) scale(0.84,1)" font-family="Liberation Sans">0</text>
<text x="0" y="0" font-size="10" font-weight="bold" fill="#bb1d24" text-anchor="middle" dominant-baseline="central" transform="translate(746.8,322.4) rotate(5.6) scale(0.84,1)" font-family="Liberation Sans">1</text>
<text x="0" y="0" font-size="10" font-weight="bold" fill="#bb1d24" text-anchor="middle" dominant-baseline="central" transform="translate(765.1,325.1) rotate(11.2) scale(0.84,1)" font-family="Liberation Sans">2</text>
<text x="0" y="0" font-size="10" font-weight="bold" fill="#bb1d24" text-anchor="middle" dominant-baseline="central" transform="translate(783,329.6) rotate(16.9) scale(0.84,1)" font-family="Liberation Sans">3</text>
<text x="0" y="0" font-size="10" font-weight="bold" fill="#bb1d24" text-anchor="middle" dominant-baseline="central" transform="translate(800.3,335.8) rotate(22.5) scale(0.84,1)" font-family="Liberation Sans">4</text>
<text x="0" y="0" font-size="10" font-weight="bold" fill="#bb1d24" text-anchor="middle" dominant-baseline="central" transform="translate(817,343.7) rotate(28.1) scale(0.84,1)" font-family="Liberation Sans">5</text>
<text x="0" y="0" font-size="10" font-weight="bold" fill="#bb1d24" text-anchor="middle" dominant-baseline="central" transform="translate(832.8,353.2) rotate(33.8) scale(0.84,1)" font-family="Liberation Sans">6</text>
<text x="0" y="0" font-size="10" font-weight="bold" fill="#bb1d24" text-anchor="middle" dominant-baseline="central" transform="translate(847.7,364.2) rotate(39.4) scale(0.84,1)" font-family="Liberation Sans">7</text>
<text x="0" y="0" font-size="10" font-weight="bold" fill="#bb1d24" text-anchor="middle" dominant-baseline="central" transform="translate(861.3,376.6) rotate(45) scale(0.84,1)" font-family="Liberation Sans">8</text>
<text x="0" y="0" font-size="10" font-weight="bold" fill="#bb1d24" text-anchor="middle" dominant-baseline="central" transform="translate(873.7,390.2) rotate(50.6) scale(0.84,1)" font-family="Liberation Sans">9</text>
<text x="0" y="0" font-size="10" font-weight="bold" fill="#bb1d24" text-anchor="middle" dominant-baseline="central" transform="translate(884.7,405.1) rotate(56.2) scale(0.84,1)" font-family="Liberation Sans">10</text>
<text x="0" y="0" font-size="10" font-weight="bold" fill="#bb1d24" text-anchor="middle" dominant-baseline="central" transform="translate(894.2,420.9) rotate(61.9) scale(0.84,1)" font-family="Liberation Sans">11</text>
<text x="0" y="0" font-size="10" font-weight="bold" fill="#bb1d24" text-anchor="middle" dominant-baseline="central" transform="translate(902.1,437.6) rotate(67.5) scale(0.84,1)" font-family="Liberation Sans">12</text>
<text x="0" y="0" font-size="10" font-weight="bold" fill="#bb1d24" text-anchor="middle" dominant-baseline="central" transform="translate(908.3,454.9) rotate(73.1) scale(0.84,1)" font-family="Liberation Sans">13</text>
<text x="0" y="0" font-size="10" font-weight="bold" fill="#bb1d24" text-anchor="middle" dominant-baseline="central" transform="translate(912.8,472.8) rotate(78.8) scale(0.84,1)" font-family="Liberation Sans">14</text>
<text x="0" y="0" font-size="10" font-weight="bold" fill="#bb1d24" text-anchor="middle" dominant-baseline="central" transform="translate(915.5,491.1) rotate(84.4) scale(0.84,1)" font-family="Liberation Sans">15</text>
<text x="0" y="0" font-size="10" font-weight="bold" fill="#bb1d24" text-anchor="middle" dominant-baseline="central" transform="translate(916.4,509.5) rotate(90) scale(0.84,1)" font-family="Liberation Sans">16</text>
<text x="0" y="0" font-size="10" font-weight="bold" fill="#bb1d24" text-anchor="middle" dominant-baseline="central" transform="translate(915.5,527.9) rotate(95.6) scale(0.84,1)" font-family="Liberation Sans">17</text>
<text x="0" y="0" font-size="10" font-weight="bold" fill="#bb1d24" text-anchor="middle" dominant-baseline="central" transform="translate(912.8,546.2) rotate(101.2) scale(0.84,1)" font-family="Liberation Sans">18</text>
<text x="0" y="0" font-size="10" font-weight="bold" fill="#bb1d24" text-anchor="middle" dominant-baseline="central" transform="translate(908.3,564.1) rotate(106.9) scale(0.84,1)" font-family="Liberation Sans">19</text>
<text x="0" y="0" font-size="10" font-weight="bold" fill="#bb1d24" text-anchor="middle" dominant-baseline="central" transform="translate(902.1,581.4) rotate(112.5) scale(0.84,1)" font-family="Liberation Sans">20</text>
<text x="0" y="0" font-size="10" font-weight="bold" fill="#bb1d24" text-anchor="middle" dominant-baseline="central" transform="translate(894.2,598.1) rotate(118.1) scale(0.84,1)" font-family="Liberation Sans">21</text>
<text x="0" y="0" font-size="10" font-weight="bold" fill="#bb1d24" text-anchor="middle" dominant-baseline="central" transform="translate(884.7,613.9) rotate(123.8) scale(0.84,1)" font-family="Liberation Sans">22</text>
<text x="0" y="0" font-size="10" font-weight="bold" fill="#bb1d24" text-anchor="middle" dominant-baseline="central" transform="translate(873.7,628.8) rotate(129.4) scale(0.84,1)" font-family="Liberation Sans">23</text>
<text x="0" y="0" font-size="10" font-weight="bold" fill="#bb1d24" text-anchor="middle" dominant-baseline="central" transform="translate(861.3,642.4) rotate(135) scale(0.84,1)" font-family="Liberation Sans">24</text>
<text x="0" y="0" font-size="10" font-weight="bold" fill="#bb1d24" text-anchor="middle" dominant-baseline="central" transform="translate(847.7,654.8) rotate(140.6) scale(0.84,1)" font-family="Liberation Sans">25</text>
<text x="0" y="0" font-size="10" font-weight="bold" fill="#bb1d24" text-anchor="middle" dominant-baseline="central" transform="translate(832.8,665.8) rotate(146.2) scale(0.84,1)" font-family="Liberation Sans">26</text>
<text x="0" y="0" font-size="10" font-weight="bold" fill="#bb1d24" text-anchor="middle" dominant-baseline="central" transform="translate(817,675.3) rotate(151.9) scale(0.84,1)" font-family="Liberation Sans">27</text>
<text x="0" y="0" font-size="10" font-weight="bold" fill="#bb1d24" text-anchor="middle" dominant-baseline="central" transform="translate(800.3,683.2) rotate(157.5) scale(0.84,1)" font-family="Liberation Sans">28</text>
<text x="0" y="0" font-size="10" font-weight="bold" fill="#bb1d24" text-anchor="middle" dominant-baseline="central" transform="translate(783,689.4) rotate(163.1) scale(0.84,1)" font-family="Liberation Sans">29</text>
<text x="0" y="0" font-size="10" font-weight="bold" fill="#bb1d24" text-anchor="middle" dominant-baseline="central" transform="translate(765.1,693.9) rotate(168.8) scale(0.84,1)" font-family="Liberation Sans">30</text>
<text x="0" y="0" font-size="10" font-weight="bold" fill="#bb1d24" text-anchor="middle" dominant-baseline="central" transform="translate(746.8,696.6) rotate(174.4) scale(0.84,1)" font-family="Liberation Sans">31</text>
<text x="0" y="0" font-size="10" font-weight="bold" fill="#bb1d24" text-anchor="middle" dominant-baseline="central" transform="translate(728.4,697.5) rotate(180) scale(0.84,1)" font-family="Liberation Sans">32</text>
<text x="736.3" y="359.2" font-size="9" fill="#111" text-anchor="middle" dominant-baseline="central" transform="rotate(3 736.3 359.2)" font-family="Liberation Sans">3</text>
<text x="751.9" y="360.9" font-size="9" fill="#111" text-anchor="middle" dominant-baseline="central" transform="rotate(9 751.9 360.9)" font-family="Liberation Sans">9</text>
<text x="767.4" y="364.1" font-size="9" fill="#111" text-anchor="middle" dominant-baseline="central" transform="rotate(15 767.4 364.1)" font-family="Liberation Sans">15</text>
<text x="782.3" y="369" font-size="9" fill="#111" text-anchor="middle" dominant-baseline="central" transform="rotate(21 782.3 369)" font-family="Liberation Sans">21</text>
<text x="796.7" y="375.4" font-size="9" fill="#111" text-anchor="middle" dominant-baseline="central" transform="rotate(27 796.7 375.4)" font-family="Liberation Sans">27</text>
<text x="810.4" y="383.3" font-size="9" fill="#111" text-anchor="middle" dominant-baseline="central" transform="rotate(33 810.4 383.3)" font-family="Liberation Sans">33</text>
<text x="823.1" y="392.5" font-size="9" fill="#111" text-anchor="middle" dominant-baseline="central" transform="rotate(39 823.1 392.5)" font-family="Liberation Sans">39</text>
<text x="834.8" y="403.1" font-size="9" fill="#111" text-anchor="middle" dominant-baseline="central" transform="rotate(45 834.8 403.1)" font-family="Liberation Sans">45</text>
<text x="845.4" y="414.8" font-size="9" fill="#111" text-anchor="middle" dominant-baseline="central" transform="rotate(51 845.4 414.8)" font-family="Liberation Sans">51</text>
<text x="854.6" y="427.5" font-size="9" fill="#111" text-anchor="middle" dominant-baseline="central" transform="rotate(57 854.6 427.5)" font-family="Liberation Sans">57</text>
<text x="862.5" y="441.2" font-size="9" fill="#111" text-anchor="middle" dominant-baseline="central" transform="rotate(63 862.5 441.2)" font-family="Liberation Sans">63</text>
<text x="868.9" y="455.6" font-size="9" fill="#111" text-anchor="middle" dominant-baseline="central" transform="rotate(69 868.9 455.6)" font-family="Liberation Sans">69</text>
<text x="873.8" y="470.5" font-size="9" fill="#111" text-anchor="middle" dominant-baseline="central" transform="rotate(75 873.8 470.5)" font-family="Liberation Sans">75</text>
<text x="877" y="486" font-size="9" fill="#111" text-anchor="middle" dominant-baseline="central" transform="rotate(81 877 486)" font-family="Liberation Sans">81</text>
<text x="878.7" y="501.6" font-size="9" fill="#111" text-anchor="middle" dominant-baseline="central" transform="rotate(87 878.7 501.6)" font-family="Liberation Sans">87</text>
<text x="878.7" y="517.4" font-size="9" fill="#111" text-anchor="middle" dominant-baseline="central" transform="rotate(93 878.7 517.4)" font-family="Liberation Sans">93</text>
<text x="877" y="533" font-size="9" fill="#111" text-anchor="middle" dominant-baseline="central" transform="rotate(99 877 533)" font-family="Liberation Sans">99</text>
<text x="873.8" y="548.5" font-size="9" fill="#111" text-anchor="middle" dominant-baseline="central" transform="rotate(105 873.8 548.5)" font-family="Liberation Sans">105</text>
<text x="868.9" y="563.4" font-size="9" fill="#111" text-anchor="middle" dominant-baseline="central" transform="rotate(111 868.9 563.4)" font-family="Liberation Sans">111</text>
<text x="862.5" y="577.8" font-size="9" fill="#111" text-anchor="middle" dominant-baseline="central" transform="rotate(117 862.5 577.8)" font-family="Liberation Sans">117</text>
<text x="854.6" y="591.5" font-size="9" fill="#111" text-anchor="middle" dominant-baseline="central" transform="rotate(123 854.6 591.5)" font-family="Liberation Sans">123</text>
<text x="845.4" y="604.2" font-size="9" fill="#111" text-anchor="middle" dominant-baseline="central" transform="rotate(129 845.4 604.2)" font-family="Liberation Sans">129</text>
<text x="834.8" y="615.9" font-size="9" fill="#111" text-anchor="middle" dominant-baseline="central" transform="rotate(135 834.8 615.9)" font-family="Liberation Sans">135</text>
<text x="823.1" y="626.5" font-size="9" fill="#111" text-anchor="middle" dominant-baseline="central" transform="rotate(141 823.1 626.5)" font-family="Liberation Sans">141</text>
<text x="810.4" y="635.7" font-size="9" fill="#111" text-anchor="middle" dominant-baseline="central" transform="rotate(147 810.4 635.7)" font-family="Liberation Sans">147</text>
<text x="796.7" y="643.6" font-size="9" fill="#111" text-anchor="middle" dominant-baseline="central" transform="rotate(153 796.7 643.6)" font-family="Liberation Sans">153</text>
<text x="782.3" y="650" font-size="9" fill="#111" text-anchor="middle" dominant-baseline="central" transform="rotate(159 782.3 650)" font-family="Liberation Sans">159</text>
<text x="767.4" y="654.9" font-size="9" fill="#111" text-anchor="middle" dominant-baseline="central" transform="rotate(165 767.4 654.9)" font-family="Liberation Sans">165</text>
<text x="751.9" y="658.1" font-size="9" fill="#111" text-anchor="middle" dominant-baseline="central" transform="rotate(171 751.9 658.1)" font-family="Liberation Sans">171</text>
<text x="736.3" y="659.8" font-size="9" fill="#111" text-anchor="middle" dominant-baseline="central" transform="rotate(177 736.3 659.8)" font-family="Liberation Sans">177</text>
<text x="842.9" y="435.2" font-size="10" fill="#111" text-anchor="middle" dominant-baseline="central" transform="rotate(-33 842.9 435.2)" font-family="Liberation Sans">D</text>
<text x="855.8" y="460.6" font-size="10" fill="#111" text-anchor="middle" dominant-baseline="central" transform="rotate(-21 855.8 460.6)" font-family="Liberation Sans">E</text>
<text x="863.2" y="488.1" font-size="10" fill="#111" text-anchor="middle" dominant-baseline="central" transform="rotate(-9 863.2 488.1)" font-family="Liberation Sans">G</text>
<text x="864.7" y="516.6" font-size="10" fill="#111" text-anchor="middle" dominant-baseline="central" transform="rotate(3 864.7 516.6)" font-family="Liberation Sans">R</text>
<text x="860.2" y="544.8" font-size="10" fill="#111" text-anchor="middle" dominant-baseline="central" transform="rotate(15 860.2 544.8)" font-family="Liberation Sans">E</text>
<text x="850" y="571.5" font-size="10" fill="#111" text-anchor="middle" dominant-baseline="central" transform="rotate(27 850 571.5)" font-family="Liberation Sans">E</text>
<text x="834.5" y="595.4" font-size="10" fill="#111" text-anchor="middle" dominant-baseline="central" transform="rotate(39 834.5 595.4)" font-family="Liberation Sans">S</text>
<text x="924.6" y="479.3" font-size="10" font-weight="bold" fill="#bb1d24" text-anchor="middle" dominant-baseline="central" transform="rotate(90 924.6 479.3)" font-family="Liberation Sans">M</text>
<text x="924.6" y="500.2" font-size="10" font-weight="bold" fill="#bb1d24" text-anchor="middle" dominant-baseline="central" transform="rotate(90 924.6 500.2)" font-family="Liberation Sans">I</text>
<text x="925.7" y="518.7" font-size="10" font-weight="bold" fill="#bb1d24" text-anchor="middle" dominant-baseline="central" transform="rotate(90 925.7 518.7)" font-family="Liberation Sans">L</text>
<text x="925.7" y="538.5" font-size="10" font-weight="bold" fill="#bb1d24" text-anchor="middle" dominant-baseline="central" transform="rotate(90 925.7 538.5)" font-family="Liberation Sans">S</text>
<circle cx="781.6" cy="389.8" r="2.2" fill="#fff" stroke="#555" stroke-width="0.7"/>
<circle cx="773.9" cy="407.1" r="2.2" fill="#fff" stroke="#555" stroke-width="0.7"/>
<circle cx="766.5" cy="423.7" r="2.2" fill="#fff" stroke="#555" stroke-width="0.7"/>
<circle cx="758.7" cy="440.4" r="2.2" fill="#fff" stroke="#555" stroke-width="0.7"/>
<circle cx="751" cy="458" r="2.2" fill="#fff" stroke="#555" stroke-width="0.7"/>
<circle cx="755.2" cy="571.5" r="2.2" fill="#fff" stroke="#555" stroke-width="0.7"/>
<circle cx="763.6" cy="589.1" r="2.2" fill="#fff" stroke="#555" stroke-width="0.7"/>
<circle cx="769.5" cy="602.3" r="2.2" fill="#fff" stroke="#555" stroke-width="0.7"/>
<circle cx="779" cy="622.8" r="2.2" fill="#fff" stroke="#555" stroke-width="0.7"/>
<text x="798" y="399" font-size="8.2" fill="#111" text-anchor="middle" dominant-baseline="central" transform="rotate(32 798 399)" font-family="Liberation Sans">35 mm</text>
<text x="790.4" y="416.6" font-size="8.2" fill="#111" text-anchor="middle" dominant-baseline="central" transform="rotate(30 790.4 416.6)" font-family="Liberation Sans">30 mm</text>
<text x="780.5" y="431" font-size="8.2" fill="#111" text-anchor="middle" dominant-baseline="central" transform="rotate(27 780.5 431)" font-family="Liberation Sans">25 mm</text>
<text x="772.8" y="449.6" font-size="8.2" fill="#111" text-anchor="middle" dominant-baseline="central" transform="rotate(25 772.8 449.6)" font-family="Liberation Sans">20 mm</text>
<text x="765.1" y="466.1" font-size="8.2" fill="#111" text-anchor="middle" dominant-baseline="central" transform="rotate(22 765.1 466.1)" font-family="Liberation Sans">15 mm</text>
<text x="742" y="577" font-size="8.2" fill="#111" text-anchor="middle" dominant-baseline="central" transform="rotate(188 742 577)" font-family="Liberation Sans">18 mm</text>
<text x="747.5" y="594.6" font-size="8.2" fill="#111" text-anchor="middle" dominant-baseline="central" transform="rotate(191 747.5 594.6)" font-family="Liberation Sans">23 mm</text>
<text x="753" y="610" font-size="8.2" fill="#111" text-anchor="middle" dominant-baseline="central" transform="rotate(194 753 610)" font-family="Liberation Sans">27 mm</text>
<text x="758.5" y="629.8" font-size="8.2" fill="#111" text-anchor="middle" dominant-baseline="central" transform="rotate(197 758.5 629.8)" font-family="Liberation Sans">33 mm</text>
<circle cx="728.4" cy="509.5" r="2.5" fill="#fff" stroke="#555" stroke-width="0.8"/>
<path d="M731,509.5H739" stroke="#333" stroke-width="0.8"/>
<path d="M740,508.8 L744.5,502.4 H759.4 V515.2 H744.5 Z" fill="#fff" stroke="#111" stroke-width="1.3"/>
<text x="752" y="512.6" font-size="10" font-weight="bold" fill="#111" text-anchor="middle" font-family="Liberation Sans" transform="scale(1,1)">ET</text>
<path d="M860,316 H915 V332 H926 V348.5 H849 V332 H860 Z" fill="#f5f5f5"/>
<text x="887" y="330.7" font-size="14.2" font-weight="bold" fill="#111" text-anchor="middle" font-family="Liberation Sans" textLength="46.5" lengthAdjust="spacingAndGlyphs" stroke="#111" stroke-width="0.5">STR NATO</text>
<text x="887.5" y="344.2" font-size="13.6" font-weight="bold" fill="#111" text-anchor="middle" font-family="Liberation Sans" textLength="69.5" lengthAdjust="spacingAndGlyphs" stroke="#111" stroke-width="0.5">(BLUE BORDER)</text>
<path d="M838,668 H902 V694 H916 V714 H838 Z" fill="#f5f5f5"/>
<path d="M841.6,673.6 H854.6 V688.5 L848.1,693.6 L841.6,688.5 Z" fill="#fff" stroke="#111" stroke-width="2.2" stroke-linejoin="round"/>
<text x="848.1" y="688.2" font-size="12.5" font-weight="bold" fill="#111" text-anchor="middle" font-family="Liberation Sans" textLength="10.5" lengthAdjust="spacingAndGlyphs">ET</text>
<text x="859.5" y="680.4" font-size="9" font-weight="bold" fill="#111" font-family="Liberation Sans" textLength="39.5" lengthAdjust="spacingAndGlyphs">ECOPYBOOK</text>
<text x="859.5" y="691.6" font-size="9" font-weight="bold" fill="#111" font-family="Liberation Sans" textLength="29.5" lengthAdjust="spacingAndGlyphs">TACTICAL</text>
<text x="840.5" y="702.6" font-size="7.4" font-weight="bold" fill="#111" font-family="Liberation Sans" textLength="48" lengthAdjust="spacingAndGlyphs">MADE IN UKRAINE</text>
<text x="840.5" y="711.6" font-size="7.4" font-weight="bold" fill="#111" font-family="Liberation Sans" textLength="73" lengthAdjust="spacingAndGlyphs">WEB: ECOPYBOOK.COM.UA</text>
<circle cx="916.9" cy="699.1" r="4.4" fill="#fff" stroke="#777" stroke-width="0.8"/>
<ellipse cx="815.2" cy="509.5" rx="39.4" ry="25.0" fill="#fff" stroke="#059de0" stroke-width="3.8"/>
<path d="M277.2,456.5H427.2V606 M427.2,449V457.1 M424.2,453.3V457.1 M421.2,453.3V457.1 M418.2,453.3V457.1 M415.2,453.3V457.1 M412.2,449V457.1 M409.2,453.3V457.1 M406.2,453.3V457.1 M403.2,453.3V457.1 M400.2,453.3V457.1 M397.2,449V457.1 M394.2,453.3V457.1 M391.2,453.3V457.1 M388.2,453.3V457.1 M385.2,453.3V457.1 M382.2,449V457.1 M379.2,453.3V457.1 M376.2,453.3V457.1 M373.2,453.3V457.1 M370.2,453.3V457.1 M367.2,449V457.1 M364.2,453.3V457.1 M361.2,453.3V457.1 M358.2,453.3V457.1 M355.2,453.3V457.1 M352.2,449V457.1 M349.2,453.3V457.1 M346.2,453.3V457.1 M343.2,453.3V457.1 M340.2,453.3V457.1 M337.2,449V457.1 M334.2,453.3V457.1 M331.2,453.3V457.1 M328.2,453.3V457.1 M325.2,453.3V457.1 M322.2,449V457.1 M319.2,453.3V457.1 M316.2,453.3V457.1 M313.2,453.3V457.1 M310.2,453.3V457.1 M307.2,449V457.1 M304.2,453.3V457.1 M301.2,453.3V457.1 M298.2,453.3V457.1 M295.2,453.3V457.1 M292.2,449V457.1 M289.2,453.3V457.1 M286.2,453.3V457.1 M283.2,453.3V457.1 M280.2,453.3V457.1 M277.2,449V457.1 M424,456.5H433.7 M424,459.5H427.2 M424,462.5H427.2 M424,465.5H427.2 M424,468.5H427.2 M424,471.5H433.7 M424,474.5H427.2 M424,477.5H427.2 M424,480.5H427.2 M424,483.5H427.2 M424,486.5H433.7 M424,489.5H427.2 M424,492.5H427.2 M424,495.5H427.2 M424,498.5H427.2 M424,501.5H433.7 M424,504.5H427.2 M424,507.5H427.2 M424,510.5H427.2 M424,513.5H427.2 M424,516.5H433.7 M424,519.5H427.2 M424,522.5H427.2 M424,525.5H427.2 M424,528.5H427.2 M424,531.5H433.7 M424,534.5H427.2 M424,537.5H427.2 M424,540.5H427.2 M424,543.5H427.2 M424,546.5H433.7 M424,549.5H427.2 M424,552.5H427.2 M424,555.5H427.2 M424,558.5H427.2 M424,561.5H433.7 M424,564.5H427.2 M424,567.5H427.2 M424,570.5H427.2 M424,573.5H427.2 M424,576.5H433.7 M424,579.5H427.2 M424,582.5H427.2 M424,585.5H427.2 M424,588.5H427.2 M424,591.5H433.7 M424,594.5H427.2 M424,597.5H427.2 M424,600.5H427.2 M424,603.5H427.2 M424,606.5H433.7" stroke="#222" stroke-width="0.95" fill="none"/>
<text x="412.2" y="446.5" font-size="10.5" text-anchor="middle" fill="#111" font-weight="normal" font-family="Liberation Sans" >1</text>
<text x="397.2" y="446.5" font-size="10.5" text-anchor="middle" fill="#111" font-weight="normal" font-family="Liberation Sans" >2</text>
<text x="382.2" y="446.5" font-size="10.5" text-anchor="middle" fill="#111" font-weight="normal" font-family="Liberation Sans" >3</text>
<text x="367.2" y="446.5" font-size="10.5" text-anchor="middle" fill="#111" font-weight="normal" font-family="Liberation Sans" >4</text>
<text x="352.2" y="446.5" font-size="10.5" text-anchor="middle" fill="#111" font-weight="normal" font-family="Liberation Sans" >5</text>
<text x="337.2" y="446.5" font-size="10.5" text-anchor="middle" fill="#111" font-weight="normal" font-family="Liberation Sans" >6</text>
<text x="322.2" y="446.5" font-size="10.5" text-anchor="middle" fill="#111" font-weight="normal" font-family="Liberation Sans" >7</text>
<text x="307.2" y="446.5" font-size="10.5" text-anchor="middle" fill="#111" font-weight="normal" font-family="Liberation Sans" >8</text>
<text x="292.2" y="446.5" font-size="10.5" text-anchor="middle" fill="#111" font-weight="normal" font-family="Liberation Sans" >9</text>
<text x="277.2" y="446.5" font-size="10.5" text-anchor="middle" fill="#111" font-weight="normal" font-family="Liberation Sans" >10</text>
<text x="434.7" y="475.5" font-size="10.5" text-anchor="start" fill="#111" font-weight="normal" font-family="Liberation Sans" >1</text>
<text x="434.7" y="490.5" font-size="10.5" text-anchor="start" fill="#111" font-weight="normal" font-family="Liberation Sans" >2</text>
<text x="434.7" y="505.5" font-size="10.5" text-anchor="start" fill="#111" font-weight="normal" font-family="Liberation Sans" >3</text>
<text x="434.7" y="520.5" font-size="10.5" text-anchor="start" fill="#111" font-weight="normal" font-family="Liberation Sans" >4</text>
<text x="434.7" y="535.5" font-size="10.5" text-anchor="start" fill="#111" font-weight="normal" font-family="Liberation Sans" >5</text>
<text x="434.7" y="550.5" font-size="10.5" text-anchor="start" fill="#111" font-weight="normal" font-family="Liberation Sans" >6</text>
<text x="434.7" y="565.5" font-size="10.5" text-anchor="start" fill="#111" font-weight="normal" font-family="Liberation Sans" >7</text>
<text x="434.7" y="580.5" font-size="10.5" text-anchor="start" fill="#111" font-weight="normal" font-family="Liberation Sans" >8</text>
<text x="434.7" y="595.5" font-size="10.5" text-anchor="start" fill="#111" font-weight="normal" font-family="Liberation Sans" >9</text>
<text x="434.7" y="610.5" font-size="10.5" text-anchor="start" fill="#111" font-weight="normal" font-family="Liberation Sans" >10</text>
<circle cx="427.2" cy="456.5" r="3.4" fill="#fff" stroke="#888" stroke-width="0.9"/>
<path d="M321.7,485H396.7V560 M396.7,477.5V485.6 M395.2,481.8V485.6 M393.7,481.8V485.6 M392.2,481.8V485.6 M390.7,481.8V485.6 M389.2,481.8V485.6 M387.7,481.8V485.6 M386.2,481.8V485.6 M384.7,481.8V485.6 M383.2,481.8V485.6 M381.7,477.5V485.6 M380.2,481.8V485.6 M378.7,481.8V485.6 M377.2,481.8V485.6 M375.7,481.8V485.6 M374.2,481.8V485.6 M372.7,481.8V485.6 M371.2,481.8V485.6 M369.7,481.8V485.6 M368.2,481.8V485.6 M366.7,477.5V485.6 M365.2,481.8V485.6 M363.7,481.8V485.6 M362.2,481.8V485.6 M360.7,481.8V485.6 M359.2,481.8V485.6 M357.7,481.8V485.6 M356.2,481.8V485.6 M354.7,481.8V485.6 M353.2,481.8V485.6 M351.7,477.5V485.6 M350.2,481.8V485.6 M348.7,481.8V485.6 M347.2,481.8V485.6 M345.7,481.8V485.6 M344.2,481.8V485.6 M342.7,481.8V485.6 M341.2,481.8V485.6 M339.7,481.8V485.6 M338.2,481.8V485.6 M336.7,477.5V485.6 M335.2,481.8V485.6 M333.7,481.8V485.6 M332.2,481.8V485.6 M330.7,481.8V485.6 M329.2,481.8V485.6 M327.7,481.8V485.6 M326.2,481.8V485.6 M324.7,481.8V485.6 M323.2,481.8V485.6 M321.7,477.5V485.6 M393.5,485H403.2 M393.5,486.5H396.7 M393.5,488H396.7 M393.5,489.5H396.7 M393.5,491H396.7 M393.5,492.5H396.7 M393.5,494H396.7 M393.5,495.5H396.7 M393.5,497H396.7 M393.5,498.5H396.7 M393.5,500H403.2 M393.5,501.5H396.7 M393.5,503H396.7 M393.5,504.5H396.7 M393.5,506H396.7 M393.5,507.5H396.7 M393.5,509H396.7 M393.5,510.5H396.7 M393.5,512H396.7 M393.5,513.5H396.7 M393.5,515H403.2 M393.5,516.5H396.7 M393.5,518H396.7 M393.5,519.5H396.7 M393.5,521H396.7 M393.5,522.5H396.7 M393.5,524H396.7 M393.5,525.5H396.7 M393.5,527H396.7 M393.5,528.5H396.7 M393.5,530H403.2 M393.5,531.5H396.7 M393.5,533H396.7 M393.5,534.5H396.7 M393.5,536H396.7 M393.5,537.5H396.7 M393.5,539H396.7 M393.5,540.5H396.7 M393.5,542H396.7 M393.5,543.5H396.7 M393.5,545H403.2 M393.5,546.5H396.7 M393.5,548H396.7 M393.5,549.5H396.7 M393.5,551H396.7 M393.5,552.5H396.7 M393.5,554H396.7 M393.5,555.5H396.7 M393.5,557H396.7 M393.5,558.5H396.7 M393.5,560H403.2" stroke="#222" stroke-width="0.95" fill="none"/>
<text x="381.7" y="474.5" font-size="10.5" text-anchor="middle" fill="#111" font-weight="normal" font-family="Liberation Sans" >2</text>
<text x="366.7" y="474.5" font-size="10.5" text-anchor="middle" fill="#111" font-weight="normal" font-family="Liberation Sans" >4</text>
<text x="351.7" y="474.5" font-size="10.5" text-anchor="middle" fill="#111" font-weight="normal" font-family="Liberation Sans" >6</text>
<text x="336.7" y="474.5" font-size="10.5" text-anchor="middle" fill="#111" font-weight="normal" font-family="Liberation Sans" >8</text>
<text x="321.7" y="474.5" font-size="10.5" text-anchor="middle" fill="#111" font-weight="normal" font-family="Liberation Sans" >10</text>
<text x="404.7" y="504" font-size="10.5" text-anchor="start" fill="#111" font-weight="normal" font-family="Liberation Sans" >2</text>
<text x="404.7" y="519" font-size="10.5" text-anchor="start" fill="#111" font-weight="normal" font-family="Liberation Sans" >4</text>
<text x="404.7" y="534" font-size="10.5" text-anchor="start" fill="#111" font-weight="normal" font-family="Liberation Sans" >6</text>
<text x="404.7" y="549" font-size="10.5" text-anchor="start" fill="#111" font-weight="normal" font-family="Liberation Sans" >8</text>
<text x="404.7" y="564" font-size="10.5" text-anchor="start" fill="#111" font-weight="normal" font-family="Liberation Sans" >10</text>
<circle cx="396.7" cy="485" r="3.4" fill="#fff" stroke="#888" stroke-width="0.9"/>
<path d="M292.4,512H367.5V587 M367.5,504.5V512.6 M365.6,508.8V512.6 M363.8,508.8V512.6 M361.9,508.8V512.6 M360,508.8V512.6 M358.1,508.8V512.6 M356.2,508.8V512.6 M354.4,508.8V512.6 M352.5,508.8V512.6 M350.6,508.8V512.6 M348.8,504.5V512.6 M346.9,508.8V512.6 M345,508.8V512.6 M343.1,508.8V512.6 M341.2,508.8V512.6 M339.4,508.8V512.6 M337.5,508.8V512.6 M335.6,508.8V512.6 M333.8,508.8V512.6 M331.9,508.8V512.6 M330,504.5V512.6 M328.1,508.8V512.6 M326.2,508.8V512.6 M324.4,508.8V512.6 M322.5,508.8V512.6 M320.6,508.8V512.6 M318.8,508.8V512.6 M316.9,508.8V512.6 M315,508.8V512.6 M313.1,508.8V512.6 M311.2,504.5V512.6 M309.4,508.8V512.6 M307.5,508.8V512.6 M305.6,508.8V512.6 M303.8,508.8V512.6 M301.9,508.8V512.6 M300,508.8V512.6 M298.1,508.8V512.6 M296.2,508.8V512.6 M294.4,508.8V512.6 M292.5,504.5V512.6 M364.3,512H374 M364.3,513.9H367.5 M364.3,515.8H367.5 M364.3,517.6H367.5 M364.3,519.5H367.5 M364.3,521.4H367.5 M364.3,523.2H367.5 M364.3,525.1H367.5 M364.3,527H367.5 M364.3,528.9H367.5 M364.3,530.8H374 M364.3,532.6H367.5 M364.3,534.5H367.5 M364.3,536.4H367.5 M364.3,538.2H367.5 M364.3,540.1H367.5 M364.3,542H367.5 M364.3,543.9H367.5 M364.3,545.8H367.5 M364.3,547.6H367.5 M364.3,549.5H374 M364.3,551.4H367.5 M364.3,553.2H367.5 M364.3,555.1H367.5 M364.3,557H367.5 M364.3,558.9H367.5 M364.3,560.8H367.5 M364.3,562.6H367.5 M364.3,564.5H367.5 M364.3,566.4H367.5 M364.3,568.2H374 M364.3,570.1H367.5 M364.3,572H367.5 M364.3,573.9H367.5 M364.3,575.8H367.5 M364.3,577.6H367.5 M364.3,579.5H367.5 M364.3,581.4H367.5 M364.3,583.2H367.5 M364.3,585.1H367.5 M364.3,587H374" stroke="#222" stroke-width="0.95" fill="none"/>
<text x="348.8" y="502" font-size="10.5" text-anchor="middle" fill="#111" font-weight="normal" font-family="Liberation Sans" >5</text>
<text x="330" y="502" font-size="10.5" text-anchor="middle" fill="#111" font-weight="normal" font-family="Liberation Sans" >10</text>
<text x="311.2" y="502" font-size="10.5" text-anchor="middle" fill="#111" font-weight="normal" font-family="Liberation Sans" >15</text>
<text x="292.5" y="502" font-size="10.5" text-anchor="middle" fill="#111" font-weight="normal" font-family="Liberation Sans" >20</text>
<text x="375.5" y="534.8" font-size="10.5" text-anchor="start" fill="#111" font-weight="normal" font-family="Liberation Sans" >5</text>
<text x="375.5" y="553.5" font-size="10.5" text-anchor="start" fill="#111" font-weight="normal" font-family="Liberation Sans" >10</text>
<text x="375.5" y="572.2" font-size="10.5" text-anchor="start" fill="#111" font-weight="normal" font-family="Liberation Sans" >15</text>
<text x="375.5" y="591" font-size="10.5" text-anchor="start" fill="#111" font-weight="normal" font-family="Liberation Sans" >20</text>
<circle cx="367.5" cy="512" r="3.4" fill="#fff" stroke="#888" stroke-width="0.9"/>
<rect x="108.2" y="531" width="82.8" height="158.3" fill="#fff"/>
<path d="M109.3,519.7V531 M112.3,523.5V531 M115.3,523.5V531 M118.3,523.5V531 M121.3,523.5V531 M124.3,519.7V531 M127.3,523.5V531 M130.3,523.5V531 M133.3,523.5V531 M136.3,523.5V531 M139.3,519.7V531 M142.3,523.5V531 M145.3,523.5V531 M148.3,523.5V531 M151.3,523.5V531 M154.3,519.7V531 M157.3,523.5V531 M160.3,523.5V531 M163.3,523.5V531 M166.3,523.5V531 M169.3,519.7V531 M172.3,523.5V531 M175.3,523.5V531 M178.3,523.5V531 M181.3,523.5V531 M184.3,519.7V531 M187.3,523.5V531 M190.3,523.5V531 M97.2,532.2H108.2 M191,532.2H201 M100.7,535.2H108.2 M191,535.2H197.5 M100.7,538.2H108.2 M191,538.2H197.5 M100.7,541.2H108.2 M191,541.2H197.5 M100.7,544.2H108.2 M191,544.2H197.5 M97.2,547.2H108.2 M191,547.2H201 M100.7,550.2H108.2 M191,550.2H197.5 M100.7,553.2H108.2 M191,553.2H197.5 M100.7,556.2H108.2 M191,556.2H197.5 M100.7,559.2H108.2 M191,559.2H197.5 M97.2,562.2H108.2 M191,562.2H201 M100.7,565.2H108.2 M191,565.2H197.5 M100.7,568.2H108.2 M191,568.2H197.5 M100.7,571.2H108.2 M191,571.2H197.5 M100.7,574.2H108.2 M191,574.2H197.5 M97.2,577.2H108.2 M191,577.2H201 M100.7,580.2H108.2 M191,580.2H197.5 M100.7,583.2H108.2 M191,583.2H197.5 M100.7,586.2H108.2 M191,586.2H197.5 M100.7,589.2H108.2 M191,589.2H197.5 M97.2,592.2H108.2 M191,592.2H201 M100.7,595.2H108.2 M191,595.2H197.5 M100.7,598.2H108.2 M191,598.2H197.5 M100.7,601.2H108.2 M191,601.2H197.5 M100.7,604.2H108.2 M191,604.2H197.5 M97.2,607.2H108.2 M191,607.2H201 M100.7,610.2H108.2 M191,610.2H197.5 M100.7,613.2H108.2 M191,613.2H197.5 M100.7,616.2H108.2 M191,616.2H197.5 M100.7,619.2H108.2 M191,619.2H197.5 M97.2,622.2H108.2 M191,622.2H201 M100.7,625.2H108.2 M191,625.2H197.5 M100.7,628.2H108.2 M191,628.2H197.5 M100.7,631.2H108.2 M191,631.2H197.5 M100.7,634.2H108.2 M191,634.2H197.5 M97.2,637.2H108.2 M191,637.2H201 M100.7,640.2H108.2 M191,640.2H197.5 M100.7,643.2H108.2 M191,643.2H197.5 M100.7,646.2H108.2 M191,646.2H197.5 M100.7,649.2H108.2 M191,649.2H197.5 M97.2,652.2H108.2 M191,652.2H201 M100.7,655.2H108.2 M191,655.2H197.5 M100.7,658.2H108.2 M191,658.2H197.5 M100.7,661.2H108.2 M191,661.2H197.5 M100.7,664.2H108.2 M191,664.2H197.5 M97.2,667.2H108.2 M191,667.2H201 M100.7,670.2H108.2 M191,670.2H197.5 M100.7,673.2H108.2 M191,673.2H197.5 M100.7,676.2H108.2 M191,676.2H197.5 M100.7,679.2H108.2 M191,679.2H197.5 M97.2,682.2H108.2 M191,682.2H201 M100.7,685.2H108.2 M191,685.2H197.5 M100.7,688.2H108.2 M191,688.2H197.5 M109.3,689.3V697.8 M112.3,689.3V694.8 M115.3,689.3V694.8 M118.3,689.3V694.8 M121.3,689.3V694.8 M124.3,689.3V697.8 M127.3,689.3V694.8 M130.3,689.3V694.8 M133.3,689.3V694.8 M136.3,689.3V694.8 M139.3,689.3V697.8 M142.3,689.3V694.8 M145.3,689.3V694.8 M148.3,689.3V694.8 M151.3,689.3V694.8 M154.3,689.3V697.8 M157.3,689.3V694.8 M160.3,689.3V694.8 M163.3,689.3V694.8 M166.3,689.3V694.8 M169.3,689.3V697.8 M172.3,689.3V694.8 M175.3,689.3V694.8 M178.3,689.3V694.8 M181.3,689.3V694.8 M184.3,689.3V697.8 M187.3,689.3V694.8 M190.3,689.3V694.8" stroke="#555" stroke-width="1" fill="none"/>
<text x="124.3" y="517.8" font-size="11.5" text-anchor="middle" fill="#111" font-weight="normal" font-family="Liberation Sans" >1</text>
<text x="139.3" y="517.8" font-size="11.5" text-anchor="middle" fill="#111" font-weight="normal" font-family="Liberation Sans" >2</text>
<text x="154.3" y="517.8" font-size="11.5" text-anchor="middle" fill="#111" font-weight="normal" font-family="Liberation Sans" >3</text>
<text x="169.3" y="517.8" font-size="11.5" text-anchor="middle" fill="#111" font-weight="normal" font-family="Liberation Sans" >4</text>
<text x="184.3" y="517.8" font-size="11.5" text-anchor="middle" fill="#111" font-weight="normal" font-family="Liberation Sans" >5</text>
<text x="95.5" y="551.3" font-size="11.5" text-anchor="end" fill="#111" font-weight="normal" font-family="Liberation Sans" >1</text>
<text x="95.5" y="566.3" font-size="11.5" text-anchor="end" fill="#111" font-weight="normal" font-family="Liberation Sans" >2</text>
<text x="95.5" y="581.3" font-size="11.5" text-anchor="end" fill="#111" font-weight="normal" font-family="Liberation Sans" >3</text>
<text x="95.5" y="596.3" font-size="11.5" text-anchor="end" fill="#111" font-weight="normal" font-family="Liberation Sans" >4</text>
<text x="95.5" y="611.3" font-size="11.5" text-anchor="end" fill="#111" font-weight="normal" font-family="Liberation Sans" >5</text>
<text x="95.5" y="626.3" font-size="11.5" text-anchor="end" fill="#111" font-weight="normal" font-family="Liberation Sans" >6</text>
<text x="95.5" y="641.3" font-size="11.5" text-anchor="end" fill="#111" font-weight="normal" font-family="Liberation Sans" >7</text>
<text x="95.5" y="656.3" font-size="11.5" text-anchor="end" fill="#111" font-weight="normal" font-family="Liberation Sans" >8</text>
<text x="95.5" y="671.3" font-size="11.5" text-anchor="end" fill="#111" font-weight="normal" font-family="Liberation Sans" >9</text>
<text x="95.5" y="686.3" font-size="11.5" text-anchor="end" fill="#111" font-weight="normal" font-family="Liberation Sans" >10</text>
<text x="202.6" y="551.3" font-size="11.5" text-anchor="start" fill="#111" font-weight="normal" font-family="Liberation Sans" >2</text>
<text x="202.6" y="566.3" font-size="11.5" text-anchor="start" fill="#111" font-weight="normal" font-family="Liberation Sans" >4</text>
<text x="202.6" y="581.3" font-size="11.5" text-anchor="start" fill="#111" font-weight="normal" font-family="Liberation Sans" >6</text>
<text x="202.6" y="596.3" font-size="11.5" text-anchor="start" fill="#111" font-weight="normal" font-family="Liberation Sans" >8</text>
<text x="202.6" y="611.3" font-size="11.5" text-anchor="start" fill="#111" font-weight="normal" font-family="Liberation Sans" >10</text>
<text x="202.6" y="626.3" font-size="11.5" text-anchor="start" fill="#111" font-weight="normal" font-family="Liberation Sans" >12</text>
<text x="202.6" y="641.3" font-size="11.5" text-anchor="start" fill="#111" font-weight="normal" font-family="Liberation Sans" >14</text>
<text x="202.6" y="656.3" font-size="11.5" text-anchor="start" fill="#111" font-weight="normal" font-family="Liberation Sans" >16</text>
<text x="202.6" y="671.3" font-size="11.5" text-anchor="start" fill="#111" font-weight="normal" font-family="Liberation Sans" >18</text>
<text x="202.6" y="686.3" font-size="11.5" text-anchor="start" fill="#111" font-weight="normal" font-family="Liberation Sans" >20</text>
<text x="124.3" y="712.3" font-size="11.5" text-anchor="middle" fill="#111" font-weight="normal" font-family="Liberation Sans" >2</text>
<text x="139.3" y="712.3" font-size="11.5" text-anchor="middle" fill="#111" font-weight="normal" font-family="Liberation Sans" >4</text>
<text x="154.3" y="712.3" font-size="11.5" text-anchor="middle" fill="#111" font-weight="normal" font-family="Liberation Sans" >6</text>
<text x="169.3" y="712.3" font-size="11.5" text-anchor="middle" fill="#111" font-weight="normal" font-family="Liberation Sans" >8</text>
<text x="184.3" y="712.3" font-size="11.5" text-anchor="middle" fill="#111" font-weight="normal" font-family="Liberation Sans" >10</text>
<rect x="108.2" y="531" width="82.8" height="158.3" fill="none" stroke="#777" stroke-width="0.9"/>
<text x="0" y="0" font-size="10.5" fill="#111" text-anchor="middle" font-family="Liberation Sans" transform="translate(86,560.6) rotate(-90)">1:25000</text>
<text x="0" y="0" font-size="10.5" fill="#111" text-anchor="middle" font-family="Liberation Sans" transform="translate(214.6,560.6) rotate(90)">1:50000</text>
<text x="198" y="710" font-size="10.2" text-anchor="start" fill="#111" font-weight="normal" font-family="Liberation Sans" >MgA=DA-(±DC)</text>
<text x="274" y="710" font-size="10.2" text-anchor="start" fill="#111" font-weight="normal" font-family="Liberation Sans" >±DC=(±MgD)-(±CM)</text>
<text x="369" y="710" font-size="10.2" text-anchor="start" fill="#111" font-weight="normal" font-family="Liberation Sans" >D=</text>
<text x="399" y="704.5" font-size="9.5" text-anchor="middle" fill="#111" font-weight="normal" font-family="Liberation Sans" >H•1000</text>
<line x1="382.5" y1="706.3" x2="416" y2="706.3" stroke="#222" stroke-width="0.9"/>
<text x="399.5" y="715" font-size="9.5" text-anchor="middle" fill="#111" font-weight="normal" font-family="Liberation Sans" >A</text>
<circle cx="465.2" cy="545.5" r="16" fill="#fff"/>
<circle cx="500.6" cy="545.5" r="16" fill="#fff"/>
<circle cx="536.6" cy="545.5" r="16" fill="#fff"/>
<circle cx="572" cy="545.5" r="16" fill="#fff"/>
<circle cx="609.8" cy="545.5" r="16" fill="#fff"/>
<rect x="123.5" y="311" width="77.7" height="5" rx="2.5" fill="#059de0" stroke="#059de0" stroke-width="7.6" stroke-linejoin="round"/>
<rect x="123.5" y="321.5" width="77.7" height="52.4" rx="1.5" fill="#059de0" stroke="#059de0" stroke-width="7.6" stroke-linejoin="round"/>
<rect x="126.6" y="383.2" width="60.3" height="5.2" rx="2.5" fill="#059de0" stroke="#059de0" stroke-width="7.6" stroke-linejoin="round"/>
<rect x="126.6" y="394.5" width="60.3" height="38.5" rx="1.5" fill="#059de0" stroke="#059de0" stroke-width="7.6" stroke-linejoin="round"/>
<path class="bs" d="M206.9,321.2 V310.9 Q206.9,308.9 208.9,308.9 H285.6 Q287.6,308.9 287.6,310.9 V321.2 A4.7,4.7 0 0 1 278.3,321.2 V317.7 H216.2 V321.2 A4.7,4.7 0 0 1 206.9,321.2 Z"/>
<rect class="bs" x="221.4" y="333.9" width="51.2" height="29.2" rx="14.6"/>
<path d="M290,328 L365.5,369.5" fill="none" stroke="#059de0" stroke-width="12.2" stroke-linecap="round" stroke-linejoin="round"/>
<path d="M290,369.5 L365.5,328" fill="none" stroke="#059de0" stroke-width="12.2" stroke-linecap="round" stroke-linejoin="round"/>
<path d="M310.8,320.3 A8.1,8.1 0 0 1 327,320.3 A8.1,8.1 0 0 1 343.2,320.3 H338 A2.9,2.9 0 0 0 332.2,320.3 H321.8 A2.9,2.9 0 0 0 316,320.3 Z" fill="#059de0" stroke="#059de0" stroke-width="7.6" stroke-linejoin="round"/>
<polygon class="bs" points="373.8,307.7 417,307.7 417,303 435.8,315.5 417,328 417,323.7 373.8,323.7"/>
<polygon class="bs" points="449,311.6 458.6,328.8 439.4,328.8"/>
<polygon class="bs" points="483.5,294 503.6,328 463.7,328"/>
<polygon class="bs" points="524.7,302.3 540,328 508.8,328"/>
<rect x="375" y="333.5" width="40.7" height="5.2" rx="2.5" fill="#059de0" stroke="#059de0" stroke-width="7.6" stroke-linejoin="round"/>
<rect x="375" y="344" width="40.7" height="28" rx="1.5" fill="#059de0" stroke="#059de0" stroke-width="7.6" stroke-linejoin="round"/>
<rect x="430.5" y="339" width="22.4" height="5" rx="2.5" fill="#059de0" stroke="#059de0" stroke-width="7.6" stroke-linejoin="round"/>
<rect x="430.5" y="349.5" width="22.4" height="16.9" rx="1.5" fill="#059de0" stroke="#059de0" stroke-width="7.6" stroke-linejoin="round"/>
<path d="M466.2,338.5 Q474.3,347.6 478.3,347.6 Q482.3,347.6 490.4,338.5" fill="none" stroke="#059de0" stroke-width="12.8" stroke-linecap="round" stroke-linejoin="round"/>
<path d="M466.2,363.5 Q474.3,354.4 478.3,354.4 Q482.3,354.4 490.4,363.5" fill="none" stroke="#059de0" stroke-width="12.8" stroke-linecap="round" stroke-linejoin="round"/>
<path d="M504,346.5 L512,338.5 L520,346.5" fill="none" stroke="#059de0" stroke-width="11.8" stroke-linecap="round" stroke-linejoin="round"/>
<polygon class="bs" points="512,351.8 524.4,363.1 512,374.6 499.9,363.1"/>
<polygon class="bs" points="555.2,322.4 581.5,346.9 555.2,371.3 528.9,346.9"/>
<path d="M550.5,313.6 L561,313.6" fill="none" stroke="#059de0" stroke-width="12.2" stroke-linecap="round" stroke-linejoin="round"/>
<path d="M633.5,313.6 L645.5,313.6" fill="none" stroke="#059de0" stroke-width="12.2" stroke-linecap="round" stroke-linejoin="round"/>
<path d="M569.2,308.6 L581.6,318.6" fill="none" stroke="#059de0" stroke-width="11.8" stroke-linecap="round" stroke-linejoin="round"/>
<path d="M569.2,318.6 L581.6,308.6" fill="none" stroke="#059de0" stroke-width="11.8" stroke-linecap="round" stroke-linejoin="round"/>
<path d="M591.4,308.6 L603.8,318.6" fill="none" stroke="#059de0" stroke-width="11.8" stroke-linecap="round" stroke-linejoin="round"/>
<path d="M591.4,318.6 L603.8,308.6" fill="none" stroke="#059de0" stroke-width="11.8" stroke-linecap="round" stroke-linejoin="round"/>
<path d="M613.6,308.6 L626,318.6" fill="none" stroke="#059de0" stroke-width="11.8" stroke-linecap="round" stroke-linejoin="round"/>
<path d="M613.6,318.6 L626,308.6" fill="none" stroke="#059de0" stroke-width="11.8" stroke-linecap="round" stroke-linejoin="round"/>
<circle class="bs" cx="598.2" cy="342.3" r="6.3"/>
<circle class="bs" cx="584.2" cy="370.5" r="12.7"/>
<path d="M620.5,345.5 L634,331.5 L647.5,345.5" fill="none" stroke="#059de0" stroke-width="12.6" stroke-linecap="round" stroke-linejoin="round"/>
<polygon class="bs" points="634,342.2 651.8,361.1 634,380.2 616.1,361.1"/>
<path d="M659,316.5 L675,300.3 L691,316.5" fill="none" stroke="#059de0" stroke-width="12.8" stroke-linecap="round" stroke-linejoin="round"/>
<polygon class="bs" points="674.8,308.2 695.8,330.7 674.8,353.3 653.7,330.7"/>
<path d="M658.4,355.4 Q669.1,364.8 674.4,364.8 Q679.7,364.8 690.4,355.4" fill="none" stroke="#059de0" stroke-width="13" stroke-linecap="round" stroke-linejoin="round"/>
<path d="M658.4,374.9 Q669.1,365.6 674.4,365.6 Q679.7,365.6 690.4,374.9" fill="none" stroke="#059de0" stroke-width="13" stroke-linecap="round" stroke-linejoin="round"/>
<polygon points="711,303.6 719.4,317.4 713.4,317.4 713.4,331 708.6,331 708.6,317.4 702.6,317.4" fill="#059de0" stroke="#059de0" stroke-width="7.6" stroke-linejoin="round"/>
<rect x="701" y="332.5" width="19.5" height="26" rx="4" fill="#059de0"/>
<path d="M711.2,363.4 L711.2,373.8" fill="none" stroke="#059de0" stroke-width="11.6" stroke-linecap="round" stroke-linejoin="round"/>
<path d="M668.6,385.4 L679.4,396.6" fill="none" stroke="#059de0" stroke-width="12.6" stroke-linecap="round" stroke-linejoin="round"/>
<path d="M668.6,396.6 L679.4,385.4" fill="none" stroke="#059de0" stroke-width="12.6" stroke-linecap="round" stroke-linejoin="round"/>
<path d="M687.4,385.4 L698.2,396.6" fill="none" stroke="#059de0" stroke-width="12.6" stroke-linecap="round" stroke-linejoin="round"/>
<path d="M687.4,396.6 L698.2,385.4" fill="none" stroke="#059de0" stroke-width="12.6" stroke-linecap="round" stroke-linejoin="round"/>
<path d="M706,385.4 L716.8,396.6" fill="none" stroke="#059de0" stroke-width="12.6" stroke-linecap="round" stroke-linejoin="round"/>
<path d="M706,396.6 L716.8,385.4" fill="none" stroke="#059de0" stroke-width="12.6" stroke-linecap="round" stroke-linejoin="round"/>
<rect class="bs" x="609.1" y="391.9" width="51.5" height="7.9" rx="3.9"/>
<circle cx="568.2" cy="395.2" r="3.6" fill="#059de0" stroke="#059de0" stroke-width="7.6" stroke-linejoin="round"/>
<circle cx="578.7" cy="395.2" r="3.6" fill="#059de0" stroke="#059de0" stroke-width="7.6" stroke-linejoin="round"/>
<circle cx="589.2" cy="395.2" r="3.6" fill="#059de0" stroke="#059de0" stroke-width="7.6" stroke-linejoin="round"/>
<circle cx="599.7" cy="395.2" r="3.6" fill="#059de0" stroke="#059de0" stroke-width="7.6" stroke-linejoin="round"/>
<path d="M509.6,384.4 L518.4,384.4" fill="none" stroke="#059de0" stroke-width="11.4" stroke-linecap="round" stroke-linejoin="round"/>
<path d="M557.5,384.4 L567,384.4" fill="none" stroke="#059de0" stroke-width="11.4" stroke-linecap="round" stroke-linejoin="round"/>
<rect x="524.4" y="372.7" width="28.4" height="22.7" rx="5" fill="#059de0"/>
<path d="M465.8,397.3 V375.6 L473.5,389 L481.2,375.6 V397.3" fill="none" stroke="#059de0" stroke-width="12.2" stroke-linecap="round" stroke-linejoin="round"/>
<path d="M488.3,397.3 V375.6 H491.2 A5.6,5.6 0 0 1 491.2,386.8 H488.3" fill="none" stroke="#059de0" stroke-width="12.2" stroke-linecap="round" stroke-linejoin="round"/>
<path class="bs" d="M257.6,394.4 V383.6 Q257.6,381.6 259.6,381.6 H350.1 Q352.1,381.6 352.1,383.6 V394.4 A4.4,4.4 0 0 1 343.3,394.4 V390.4 H266.4 V394.4 A4.4,4.4 0 0 1 257.6,394.4 Z"/>
<rect x="358.5" y="382" width="20.7" height="18.7" rx="4.5" fill="#059de0"/>
<circle cx="388.4" cy="390.5" r="3.6" fill="#059de0" stroke="#059de0" stroke-width="7.6" stroke-linejoin="round"/>
<circle cx="399.1" cy="390.5" r="3.6" fill="#059de0" stroke="#059de0" stroke-width="7.6" stroke-linejoin="round"/>
<circle cx="409.7" cy="390.5" r="3.6" fill="#059de0" stroke="#059de0" stroke-width="7.6" stroke-linejoin="round"/>
<path d="M422.4,380 L434.8,391.8" fill="none" stroke="#059de0" stroke-width="12.8" stroke-linecap="round" stroke-linejoin="round"/>
<path d="M422.4,391.8 L434.8,380" fill="none" stroke="#059de0" stroke-width="12.8" stroke-linecap="round" stroke-linejoin="round"/>
<path d="M442.1,380 L454.5,391.8" fill="none" stroke="#059de0" stroke-width="12.8" stroke-linecap="round" stroke-linejoin="round"/>
<path d="M442.1,391.8 L454.5,380" fill="none" stroke="#059de0" stroke-width="12.8" stroke-linecap="round" stroke-linejoin="round"/>
<rect class="bs" x="268.9" y="406.4" width="33.7" height="18.7" rx="9.3"/>
<path d="M309,404.6 L351.5,428.4" fill="none" stroke="#059de0" stroke-width="12" stroke-linecap="round" stroke-linejoin="round"/>
<path d="M309,428.4 L351.5,404.6" fill="none" stroke="#059de0" stroke-width="12" stroke-linecap="round" stroke-linejoin="round"/>
<rect x="360" y="405.2" width="29.2" height="22" rx="4" fill="#059de0"/>
<rect x="393" y="400" width="52" height="7" rx="3.5" fill="#059de0" stroke="#059de0" stroke-width="7.6" stroke-linejoin="round"/>
<rect x="393" y="425.5" width="52" height="7.5" rx="3.5" fill="#059de0" stroke="#059de0" stroke-width="7.6" stroke-linejoin="round"/>
<circle cx="419" cy="416.2" r="6" fill="#059de0" stroke="#059de0" stroke-width="7.6" stroke-linejoin="round"/>
<circle cx="451.3" cy="416.2" r="7.2" fill="#059de0" stroke="#059de0" stroke-width="7.6" stroke-linejoin="round"/>
<circle cx="472.5" cy="416.2" r="7.2" fill="#059de0" stroke="#059de0" stroke-width="7.6" stroke-linejoin="round"/>
<rect x="451.3" y="412.8" width="21.2" height="6.8" rx="0" fill="#059de0" stroke="#059de0" stroke-width="7.6" stroke-linejoin="round"/>
<path d="M485.2,431.2 A26,26 0 0 1 529.2,431.2" fill="none" stroke="#059de0" stroke-width="12.4" stroke-linecap="round" stroke-linejoin="round"/>
<path d="M531.6,404 L551,418.6 L553.6,413.4 L577.4,429.8" fill="none" stroke="#059de0" stroke-width="13" stroke-linecap="round" stroke-linejoin="round"/>
<path class="bs" d="M599.6,429.2 L590.8,419.5 A10,10 0 1 1 608.4,419.5 Z"/>
<path d="M627.5,407.5 L662.5,426.5" fill="none" stroke="#059de0" stroke-width="12" stroke-linecap="round" stroke-linejoin="round"/>
<path d="M627.5,426.5 L662.5,407.5" fill="none" stroke="#059de0" stroke-width="12" stroke-linecap="round" stroke-linejoin="round"/>
<path d="M680,417.2 L706,417.2" fill="none" stroke="#059de0" stroke-width="12" stroke-linecap="round" stroke-linejoin="round"/>
<path d="M674,410.6 Q679.5,410.6 679.5,417.2 Q679.5,423.8 674,423.8" fill="none" stroke="#059de0" stroke-width="12" stroke-linecap="round" stroke-linejoin="round"/>
<path d="M712,410.6 Q706.5,410.6 706.5,417.2 Q706.5,423.8 712,423.8" fill="none" stroke="#059de0" stroke-width="12" stroke-linecap="round" stroke-linejoin="round"/>
<rect class="bs" x="82.7" y="469.1" width="33.8" height="34.5" rx="3"/>
<rect class="bs" x="128.6" y="453.1" width="41.2" height="34.7" rx="3"/>
<rect class="bs" x="181.1" y="441.7" width="27.7" height="27.1" rx="3"/>
<rect class="bs" x="230.6" y="438.7" width="33.2" height="27.1" rx="3"/>
<rect class="bs" x="203.1" y="396.1" width="51" height="32.2" rx="3"/>
<polygon class="bs" points="290.3,466.6 304.6,477 290.3,487.4 276.1,477"/>
<rect class="bs" x="200.1" y="495.6" width="40.5" height="27" rx="3"/>
<polygon class="bs" points="252,501.8 268,506.6 284,501.8 284,508 268,520.3 252,508"/>
<rect class="bs" x="234.3" y="527.9" width="48" height="47.2" rx="3"/>
<rect x="298.7" y="523.7" width="20.3" height="24" rx="4" fill="#059de0"/>
<rect class="bs" x="327.6" y="530.6" width="17" height="12.5" rx="2.5"/>
<path d="M291.4,563 L296.4,555.2 L301.4,563" fill="none" stroke="#059de0" stroke-width="15.2" stroke-linecap="round" stroke-linejoin="round"/>
<path d="M318.2,563 L323.2,555.2 L328.2,563" fill="none" stroke="#059de0" stroke-width="15.2" stroke-linecap="round" stroke-linejoin="round"/>
<path d="M343.8,563 L348.8,555.2 L353.8,563" fill="none" stroke="#059de0" stroke-width="15.2" stroke-linecap="round" stroke-linejoin="round"/>
<path d="M291.4,583.8 L296.4,576 L301.4,583.8" fill="none" stroke="#059de0" stroke-width="15.2" stroke-linecap="round" stroke-linejoin="round"/>
<path class="bs" d="M310.9,588.7 H335.5 C335.5,579.5 330,573.7 323.2,573.7 C316.4,573.7 310.9,579.5 310.9,588.7 Z"/>
<circle class="bs" cx="348.8" cy="581.2" r="8.3"/>
<circle class="bs" cx="235.7" cy="615" r="11.1"/>
<circle class="bs" cx="285.2" cy="615" r="14.9"/>
<circle class="bs" cx="254.5" cy="661" r="25.8"/>
<circle class="bs" cx="307" cy="661" r="21"/>
<circle class="bs" cx="354.7" cy="660.8" r="17.6"/>
<path class="bs" d="M312.5,596.3 Q312.5,594.2 314.6,594.2 H347.6 Q349.7,594.2 349.7,596.3 V618.8 Q349.7,621 347,620 Q331,611 315,620 Q312.5,621 312.5,618.8 Z"/>
<path class="bs" d="M355.2,595.5 Q355.2,592.8 358,593.8 Q374.6,603 391.2,593.8 Q394,592.8 394,595.5 V618.9 Q394,621 391.9,621 H357.3 Q355.2,621 355.2,618.9 Z"/>
<path d="M399.5,573.3 L411.9,585.7" fill="none" stroke="#059de0" stroke-width="13" stroke-linecap="round" stroke-linejoin="round"/>
<path d="M399.5,585.7 L411.9,573.3" fill="none" stroke="#059de0" stroke-width="13" stroke-linecap="round" stroke-linejoin="round"/>
<path d="M405.2,599.6 L405.2,627 L412.4,627" fill="none" stroke="#059de0" stroke-width="15.2" stroke-linecap="round" stroke-linejoin="round"/>
<path d="M419.4,613.2 A19.7,19.7 0 0 1 419.4,652.6 V645.2 A12.4,12.4 0 0 0 419.4,620.4 Z" fill="#059de0" stroke="#059de0" stroke-width="7.6" stroke-linejoin="round"/>
<rect x="437" y="628.6" width="12" height="8" rx="1" fill="#059de0" stroke="#059de0" stroke-width="7.6" stroke-linejoin="round"/>
<path d="M377.9,637.5 H416.2 C412,649.5 382,649.5 377.9,637.5 Z" fill="#059de0" stroke="#059de0" stroke-width="7.6" stroke-linejoin="round"/>
<path d="M389.7,665.1 L389.7,679.3" fill="none" stroke="#059de0" stroke-width="13.4" stroke-linecap="round" stroke-linejoin="round"/>
<path d="M411.2,665.1 L411.2,679.3" fill="none" stroke="#059de0" stroke-width="13.4" stroke-linecap="round" stroke-linejoin="round"/>
<path d="M400,657.5 L400,686.3" fill="none" stroke="#059de0" stroke-width="13.9" stroke-linecap="round" stroke-linejoin="round"/>
<path class="bs" d="M423.6,696 C425,668 432,652.7 442.2,652.7 C452.4,652.7 459.4,668 460.7,696 Z"/>
<path class="bs" d="M465,679.3 A16.4,16.4 0 0 1 473.4,664.7 L478.6,673.9 A5.8,5.8 0 0 0 475.6,679.1 Z"/>
<path class="bs" d="M489.4,664.7 A16.4,16.4 0 0 1 497.8,679.3 L487.2,679.1 A5.8,5.8 0 0 0 484.2,673.9 Z"/>
<path class="bs" d="M489.8,693.1 A16.4,16.4 0 0 1 473,693.1 L478.4,684 A5.8,5.8 0 0 0 484.4,684 Z"/>
<circle class="bs" cx="481.4" cy="679" r="4.7"/>
<rect class="bs" x="504.1" y="663.9" width="28" height="32.9" rx="3"/>
<polygon points="539.2,665.6 565.6,678.6 539.2,691" fill="#059de0" stroke="#059de0" stroke-width="7.6" stroke-linejoin="round"/>
<rect x="539.2" y="685" width="5.2" height="11.4" rx="0.5" fill="#059de0" stroke="#059de0" stroke-width="7.6" stroke-linejoin="round"/>
<rect x="449.4" y="571.5" width="22.6" height="6" rx="1.5" fill="#059de0" stroke="#059de0" stroke-width="7.6" stroke-linejoin="round"/>
<rect x="456.3" y="575" width="9.4" height="15" rx="0" fill="#059de0" stroke="#059de0" stroke-width="7.6" stroke-linejoin="round"/>
<rect x="449.4" y="588" width="22.6" height="6.5" rx="1.5" fill="#059de0" stroke="#059de0" stroke-width="7.6" stroke-linejoin="round"/>
<path d="M482.5,575.6 L492.1,571.7 L501.8,575.6" fill="none" stroke="#059de0" stroke-width="14.1" stroke-linecap="round" stroke-linejoin="round"/>
<path d="M482.5,589.2 L492.1,594.5 L501.8,589.2" fill="none" stroke="#059de0" stroke-width="14.1" stroke-linecap="round" stroke-linejoin="round"/>
<path d="M514.5,572.5 L535,572.5" fill="none" stroke="#059de0" stroke-width="14.1" stroke-linecap="round" stroke-linejoin="round"/>
<path d="M524.8,572.5 L524.8,586" fill="none" stroke="#059de0" stroke-width="14.6" stroke-linecap="round" stroke-linejoin="round"/>
<path d="M513.5,593 L524.8,586.5 L536,593" fill="none" stroke="#059de0" stroke-width="13.6" stroke-linecap="round" stroke-linejoin="round"/>
<path d="M544,583.2 L556,576.2 L568,583.2" fill="none" stroke="#059de0" stroke-width="13.1" stroke-linecap="round" stroke-linejoin="round"/>
<polygon points="453.6,609.2 462,609.2 471.2,605.8 471.2,627 462,625 453.6,625" fill="#059de0" stroke="#059de0" stroke-width="7.6" stroke-linejoin="round"/>
<path d="M479.5,605.5 Q481.8,603.6 484,606.2 L485.8,609.8 Q488,606.5 490.2,609.8 L492,606.2 Q494.2,603.6 496.5,605.5 V612 Q496.5,622 488,622 Q479.5,622 479.5,612 Z" fill="#059de0" stroke="#059de0" stroke-width="7.6" stroke-linejoin="round"/>
<rect class="bs" x="505.1" y="611.4" width="42" height="18.7" rx="3"/>
<rect class="bs" x="457.9" y="637.6" width="89.2" height="19.5" rx="3"/>
<polygon class="bs" points="554,605 588,605 588,610.5 585.2,630.2 557,630.2 554,610.5"/>
<rect x="566.8" y="567.6" width="30.2" height="18.4" rx="4.5" fill="#059de0"/>
<path d="M573,595 A9.25,9.25 0 0 1 591.5,595" fill="none" stroke="#059de0" stroke-width="15.4" stroke-linecap="round"/>
<rect x="604" y="584" width="22" height="9" fill="#059de0"/>
<path class="bs" d="M601,569.7 H628.5 C628.5,582 622.5,588.5 614.7,588.5 C607,588.5 601,582 601,569.7 Z"/>
<rect x="603.6" y="591" width="22.8" height="5" rx="0.5" fill="#059de0" stroke="#059de0" stroke-width="7.6" stroke-linejoin="round"/>
<rect x="636" y="569.8" width="5.8" height="26.6" rx="0.5" fill="#059de0" stroke="#059de0" stroke-width="7.6" stroke-linejoin="round"/>
<rect x="648.4" y="569.8" width="5.8" height="26.6" rx="0.5" fill="#059de0" stroke="#059de0" stroke-width="7.6" stroke-linejoin="round"/>
<path d="M668.7,571.5 L668.7,595.5" fill="none" stroke="#059de0" stroke-width="12.2" stroke-linecap="round" stroke-linejoin="round"/>
<path d="M661,583.5 L676.5,583.5" fill="none" stroke="#059de0" stroke-width="12.2" stroke-linecap="round" stroke-linejoin="round"/>
<polygon class="bs" points="694,570.2 703.4,579.2 703.4,598.4 684.6,598.4 684.6,579.2"/>
<polygon class="bs" points="625.7,613.9 600.9,637.5 593.5,629.7 618.3,606.1"/>
<polygon class="bs" points="661.3,637.5 636.5,613.9 643.9,606.1 668.7,629.7"/>
<polygon class="bs" points="684.2,602.4 717,602.4 717,638 700.6,656.4 684.2,638"/>
<path d="M566,636.8 H579.6 V646.45 A13.4,13.4 0 1 1 566,646.45 Z" fill="#059de0" stroke="#059de0" stroke-width="7.6" stroke-linejoin="round"/>
<rect x="572.8" y="686.3" width="6.8" height="5.7" rx="0" fill="#059de0" stroke="#059de0" stroke-width="7.6" stroke-linejoin="round"/>
<ellipse cx="576" cy="698" rx="14.6" ry="8.2" fill="#059de0" stroke="#059de0" stroke-width="7.6" stroke-linejoin="round"/>
<polygon class="bs" points="599,652 611,652 611,661 622,689 590,689 599,661"/>
<path class="bs" d="M614,647.6 C614,639 622,633 632.2,633 C642.4,633 650.4,639 650.4,647.6 H640 V670 H623 V647.6 Z"/>
<circle cx="660" cy="660.3" r="7.3" fill="#059de0" stroke="#059de0" stroke-width="7.6" stroke-linejoin="round"/>
<circle cx="677" cy="660.3" r="7.3" fill="#059de0" stroke="#059de0" stroke-width="7.6" stroke-linejoin="round"/>
<circle cx="668.5" cy="651.8" r="7.3" fill="#059de0" stroke="#059de0" stroke-width="7.6" stroke-linejoin="round"/>
<circle cx="668.5" cy="668.8" r="7.3" fill="#059de0" stroke="#059de0" stroke-width="7.6" stroke-linejoin="round"/>
<rect x="660" y="652" width="17" height="16.6" rx="0" fill="#059de0" stroke="#059de0" stroke-width="7.6" stroke-linejoin="round"/>
<circle cx="688.5" cy="688" r="9.3" fill="#059de0" stroke="#059de0" stroke-width="7.6" stroke-linejoin="round"/>
<circle cx="709.5" cy="688" r="9.3" fill="#059de0" stroke="#059de0" stroke-width="7.6" stroke-linejoin="round"/>
<circle cx="699" cy="677.5" r="9.3" fill="#059de0" stroke="#059de0" stroke-width="7.6" stroke-linejoin="round"/>
<circle cx="699" cy="698.5" r="9.3" fill="#059de0" stroke="#059de0" stroke-width="7.6" stroke-linejoin="round"/>
<rect x="688.5" y="677.5" width="21" height="21" rx="0" fill="#059de0" stroke="#059de0" stroke-width="7.6" stroke-linejoin="round"/>
<ellipse class="bs" cx="644.3" cy="699.2" rx="21.4" ry="12.9"/>
<path class="bs" d="M630,508.6 Q662,513.5 692.5,518 V506.6 L723.6,528.3 L692.5,551 V538.8 Q662,543 630,548.8 L643.6,528.6 Z"/>
<path class="bs" d="M655.8,548.6 L672,555 L688.4,548.6 V564.8 L672,558.6 L655.8,564.8 Z"/>
<polygon class="bs" points="708.6,546.4 720.8,558 720.8,571.2 711,580.4 701.4,571.2 701.4,557.5"/>
<rect x="627.5" y="479.5" width="95.5" height="25.5" rx="4" fill="#059de0"/>
<ellipse class="bs" cx="609.2" cy="498.4" rx="16.1" ry="11.4"/>
<circle cx="595.2" cy="518.6" r="5" fill="#059de0" stroke="#059de0" stroke-width="7.6" stroke-linejoin="round"/>
<circle cx="607.9" cy="518.6" r="5" fill="#059de0" stroke="#059de0" stroke-width="7.6" stroke-linejoin="round"/>
<circle cx="620.6" cy="518.6" r="5" fill="#059de0" stroke="#059de0" stroke-width="7.6" stroke-linejoin="round"/>
<circle cx="467.8" cy="460" r="10" fill="#059de0"/>
<rect x="455.8" y="457.3" width="23.8" height="5.8" rx="2" fill="#059de0" stroke="#059de0" stroke-width="7.6" stroke-linejoin="round"/>
<rect x="465.1" y="447.8" width="5.7" height="23.8" rx="2" fill="#059de0" stroke="#059de0" stroke-width="7.6" stroke-linejoin="round"/>
<rect x="493.3" y="442.6" width="7.5" height="32.8" rx="1.5" fill="#059de0" stroke="#059de0" stroke-width="7.6" stroke-linejoin="round"/>
<path d="M508.6,462.4 A9.5,9.5 0 0 0 525.6,462.4" fill="none" stroke="#059de0" stroke-width="11.8" stroke-linecap="round" stroke-linejoin="round"/>
<path d="M516.8,449.8 L516.8,467.5" fill="none" stroke="#059de0" stroke-width="11.8" stroke-linecap="round" stroke-linejoin="round"/>
<path d="M511.5,455.4 L522.5,455.4" fill="none" stroke="#059de0" stroke-width="11.8" stroke-linecap="round" stroke-linejoin="round"/>
<rect x="533.4" y="457.4" width="48" height="5.8" rx="2" fill="#059de0" stroke="#059de0" stroke-width="7.6" stroke-linejoin="round"/>
<rect x="553.4" y="442.6" width="8.2" height="32.8" rx="1.5" fill="#059de0" stroke="#059de0" stroke-width="7.6" stroke-linejoin="round"/>
<path d="M579.6,476 L600,449.7 L621.2,476" fill="none" stroke="#059de0" stroke-width="12.8" stroke-linecap="round" stroke-linejoin="round"/>
<polygon points="600,463.8 609.2,472.2 609.2,487 600,480.6 590.8,487 590.8,472.2" fill="#059de0" stroke="#059de0" stroke-width="7.6" stroke-linejoin="round"/>
<path d="M648.5,454 A8.2,8.2 0 1 0 648.5,465.8" fill="none" stroke="#059de0" stroke-width="12.8" stroke-linecap="round" stroke-linejoin="round"/>
<path d="M668,445 L693.2,436.2 L718.5,445" fill="none" stroke="#059de0" stroke-width="13.1" stroke-linecap="round" stroke-linejoin="round"/>
<path d="M686,449.6 A14,14 0 0 0 685.6,474.4" fill="none" stroke="#059de0" stroke-width="12" stroke-linecap="round" stroke-linejoin="round"/>
<path d="M686.8,453 L697,453 L699.3,457.4 L696.5,461.6 L691,461.6" fill="none" stroke="#059de0" stroke-width="12" stroke-linecap="round" stroke-linejoin="round"/>
<path d="M691,461.8 L707.5,461.8" fill="none" stroke="#059de0" stroke-width="12" stroke-linecap="round" stroke-linejoin="round"/>
<polygon class="bs" points="706.4,473.4 716.6,464 716.6,473.4"/>
<rect class="bs" x="447.3" y="505.7" width="32.2" height="12.4" rx="6.2"/>
<path d="M489,503.2 L519,483.4" fill="none" stroke="#059de0" stroke-width="12.6" stroke-linecap="round" stroke-linejoin="round"/>
<path d="M537.6,489.6 L549.6,489.6" fill="none" stroke="#059de0" stroke-width="13.8" stroke-linecap="round" stroke-linejoin="round"/>
<path d="M543.6,490 L543.6,501.6" fill="none" stroke="#059de0" stroke-width="13.2" stroke-linecap="round" stroke-linejoin="round"/>
<path class="bs" d="M518.4,508.4 Q523,518 533.8,522.4 Q523,527 518.4,536.6 Q514,527 503,522.4 Q514,518 518.4,508.4 Z"/>
<path d="M567.4,514.5 L567.4,493.5 L570.5,490.6 L580.2,490.6 L580.2,496.5" fill="none" stroke="#059de0" stroke-width="13.2" stroke-linecap="round" stroke-linejoin="round"/>
<path d="M576.5,505.8 L582.3,505.8" fill="none" stroke="#059de0" stroke-width="13.2" stroke-linecap="round" stroke-linejoin="round"/>
<path d="M563.2,516.8 L571.2,516.8" fill="none" stroke="#059de0" stroke-width="12.4" stroke-linecap="round" stroke-linejoin="round"/>
<polygon points="454.4,536.2 475.6,536.2 468.2,550.6 468.2,560.2 462.6,560.2 462.6,550.6" fill="#059de0" stroke="#059de0" stroke-width="7.6" stroke-linejoin="round"/>
<path class="bs" d="M511.1,537.3 A13.3,13.3 0 1 0 511.1,553.7 L506.6,546.3 Z"/>
<path class="bs" d="M525.6,560.8 V542 A11,11 0 0 1 547.6,542 V560.8 Z"/>
<rect x="569.6" y="527.6" width="5.6" height="35" rx="1" fill="#059de0" stroke="#059de0" stroke-width="7.6" stroke-linejoin="round"/>
<rect x="555.2" y="543" width="34.8" height="5.2" rx="1" fill="#059de0" stroke="#059de0" stroke-width="7.6" stroke-linejoin="round"/>
<path d="M597.6,539.6 Q615.2,545.5 597.6,551.4" fill="none" stroke="#059de0" stroke-width="12.4" stroke-linecap="round" stroke-linejoin="round"/>
<path d="M622,539.6 Q604.4,545.5 622,551.4" fill="none" stroke="#059de0" stroke-width="12.4" stroke-linecap="round" stroke-linejoin="round"/>
<rect x="210.5" y="325.5" width="73" height="45.5" fill="none" stroke="#222" stroke-width="1"/>
<rect x="291" y="325.5" width="74" height="45.5" fill="none" stroke="#222" stroke-width="1"/>
<rect x="264.7" y="403.3" width="454.6" height="26.2" fill="none" stroke="#222" stroke-width="1"/>
<line x1="308.2" y1="403.3" x2="308.2" y2="429.5" stroke="#222" stroke-width="0.9"/>
<line x1="353.2" y1="403.3" x2="353.2" y2="429.5" stroke="#222" stroke-width="0.9"/>
<line x1="396.5" y1="403.3" x2="396.5" y2="429.5" stroke="#222" stroke-width="0.9"/>
<line x1="441.7" y1="403.3" x2="441.7" y2="429.5" stroke="#222" stroke-width="0.9"/>
<line x1="480.8" y1="403.3" x2="480.8" y2="429.5" stroke="#222" stroke-width="0.9"/>
<line x1="533.5" y1="403.3" x2="533.5" y2="429.5" stroke="#222" stroke-width="0.9"/>
<line x1="574.6" y1="403.3" x2="574.6" y2="429.5" stroke="#222" stroke-width="0.9"/>
<line x1="623.7" y1="403.3" x2="623.7" y2="429.5" stroke="#222" stroke-width="0.9"/>
<line x1="667.2" y1="403.3" x2="667.2" y2="429.5" stroke="#222" stroke-width="0.9"/>
<line x1="396.3" y1="403.3" x2="396.3" y2="429.5" stroke="#222" stroke-width="0.9"/>
<line x1="441.7" y1="403.3" x2="441.7" y2="429.5" stroke="#222" stroke-width="0.9"/>
<rect x="196.7" y="389.5" width="49.5" height="30.2" fill="none" stroke="#222" stroke-width="1"/>
<rect x="200.2" y="393.3" width="49.5" height="30" fill="none" stroke="#222" stroke-width="1"/>
<circle cx="405.7" cy="579.5" r="9.2" fill="none" stroke="#222" stroke-width="1"/>
<line x1="451.6" y1="565.5" x2="451.6" y2="598" stroke="#222" stroke-width="0.9"/>
<line x1="468.7" y1="565.5" x2="468.7" y2="598" stroke="#222" stroke-width="0.9"/>
<line x1="485.8" y1="565.5" x2="485.8" y2="598" stroke="#222" stroke-width="0.9"/>
<line x1="498.6" y1="565.5" x2="498.6" y2="598" stroke="#222" stroke-width="0.9"/>
<line x1="514" y1="565.5" x2="514" y2="598" stroke="#222" stroke-width="0.9"/>
<line x1="531" y1="565.5" x2="531" y2="598" stroke="#222" stroke-width="0.9"/>
<line x1="543.5" y1="565.5" x2="543.5" y2="598" stroke="#222" stroke-width="0.9"/>
<line x1="560.5" y1="565.5" x2="560.5" y2="598" stroke="#222" stroke-width="0.9"/>
<line x1="572.5" y1="567" x2="572.5" y2="599" stroke="#222" stroke-width="0.9"/>
<line x1="591" y1="567" x2="591" y2="599" stroke="#222" stroke-width="0.9"/>
<line x1="606.5" y1="567" x2="606.5" y2="599" stroke="#222" stroke-width="0.9"/>
<line x1="623.5" y1="567" x2="623.5" y2="599" stroke="#222" stroke-width="0.9"/>
<rect x="659" y="569.2" width="19.5" height="27.8" fill="none" stroke="#222" stroke-width="1"/>
<rect x="444.6" y="446.6" width="274.9" height="26.4" fill="none" stroke="#222" stroke-width="1"/>
<line x1="491" y1="446.6" x2="491" y2="473" stroke="#222" stroke-width="0.9"/>
<line x1="535.3" y1="446.6" x2="535.3" y2="473" stroke="#222" stroke-width="0.9"/>
<line x1="579.6" y1="446.6" x2="579.6" y2="473" stroke="#222" stroke-width="0.9"/>
<line x1="621.3" y1="446.6" x2="621.3" y2="473" stroke="#222" stroke-width="0.9"/>
<line x1="667" y1="446.6" x2="667" y2="473" stroke="#222" stroke-width="0.9"/>
<circle cx="467.6" cy="459.9" r="10.5" fill="none" stroke="#222" stroke-width="0.9"/>
<path d="M448.4,503.8 V483.4 H479 V503.8 Q463.7,495.5 448.4,503.8" fill="none" stroke="#222" stroke-width="0.9"/>
<path d="M488.6,503.8 V483.4 H518.6 V503.8 Q503.6,495.5 488.6,503.8" fill="none" stroke="#222" stroke-width="0.9"/>
<path d="M528.2,503.8 V483.4 H557.6 V503.8 Q542.9000000000001,495.5 528.2,503.8" fill="none" stroke="#222" stroke-width="0.9"/>
<circle cx="465.2" cy="545.5" r="16" fill="none" stroke="#111" stroke-width="1.1"/>
<circle cx="500.6" cy="545.5" r="16" fill="none" stroke="#111" stroke-width="1.1"/>
<circle cx="536.6" cy="545.5" r="16" fill="none" stroke="#111" stroke-width="1.1"/>
<circle cx="572" cy="545.5" r="16" fill="none" stroke="#111" stroke-width="1.1"/>
<circle cx="609.8" cy="545.5" r="16" fill="none" stroke="#111" stroke-width="1.1"/>
<g mask="url(#m)"><path class="wf" d="M206.9,321.2 V310.9 Q206.9,308.9 208.9,308.9 H285.6 Q287.6,308.9 287.6,310.9 V321.2 A4.7,4.7 0 0 1 278.3,321.2 V317.7 H216.2 V321.2 A4.7,4.7 0 0 1 206.9,321.2 Z"/>
<rect class="wf" x="221.4" y="333.9" width="51.2" height="29.2" rx="14.6"/>
<polygon class="wf" points="373.8,307.7 417,307.7 417,303 435.8,315.5 417,328 417,323.7 373.8,323.7"/>
<polygon class="wf" points="449,311.6 458.6,328.8 439.4,328.8"/>
<polygon class="wf" points="483.5,294 503.6,328 463.7,328"/>
<polygon class="wf" points="524.7,302.3 540,328 508.8,328"/>
<polygon class="wf" points="512,351.8 524.4,363.1 512,374.6 499.9,363.1"/>
<polygon class="wf" points="555.2,322.4 581.5,346.9 555.2,371.3 528.9,346.9"/>
<circle class="wf" cx="598.2" cy="342.3" r="6.3"/>
<circle class="wf" cx="584.2" cy="370.5" r="12.7"/>
<polygon class="wf" points="634,342.2 651.8,361.1 634,380.2 616.1,361.1"/>
<polygon class="wf" points="674.8,308.2 695.8,330.7 674.8,353.3 653.7,330.7"/>
<rect class="wf" x="609.1" y="391.9" width="51.5" height="7.9" rx="3.9"/>
<path class="wf" d="M257.6,394.4 V383.6 Q257.6,381.6 259.6,381.6 H350.1 Q352.1,381.6 352.1,383.6 V394.4 A4.4,4.4 0 0 1 343.3,394.4 V390.4 H266.4 V394.4 A4.4,4.4 0 0 1 257.6,394.4 Z"/>
<rect class="wf" x="268.9" y="406.4" width="33.7" height="18.7" rx="9.3"/>
<path class="wf" d="M599.6,429.2 L590.8,419.5 A10,10 0 1 1 608.4,419.5 Z"/>
<rect class="wf" x="82.7" y="469.1" width="33.8" height="34.5" rx="3"/>
<rect class="wf" x="128.6" y="453.1" width="41.2" height="34.7" rx="3"/>
<rect class="wf" x="181.1" y="441.7" width="27.7" height="27.1" rx="3"/>
<rect class="wf" x="230.6" y="438.7" width="33.2" height="27.1" rx="3"/>
<rect class="wf" x="203.1" y="396.1" width="51" height="32.2" rx="3"/>
<polygon class="wf" points="290.3,466.6 304.6,477 290.3,487.4 276.1,477"/>
<rect class="wf" x="200.1" y="495.6" width="40.5" height="27" rx="3"/>
<polygon class="wf" points="252,501.8 268,506.6 284,501.8 284,508 268,520.3 252,508"/>
<rect class="wf" x="234.3" y="527.9" width="48" height="47.2" rx="3"/>
<rect class="wf" x="327.6" y="530.6" width="17" height="12.5" rx="2.5"/>
<path class="wf" d="M310.9,588.7 H335.5 C335.5,579.5 330,573.7 323.2,573.7 C316.4,573.7 310.9,579.5 310.9,588.7 Z"/>
<circle class="wf" cx="348.8" cy="581.2" r="8.3"/>
<circle class="wf" cx="235.7" cy="615" r="11.1"/>
<circle class="wf" cx="285.2" cy="615" r="14.9"/>
<circle class="wf" cx="254.5" cy="661" r="25.8"/>
<circle class="wf" cx="307" cy="661" r="21"/>
<circle class="wf" cx="354.7" cy="660.8" r="17.6"/>
<path class="wf" d="M312.5,596.3 Q312.5,594.2 314.6,594.2 H347.6 Q349.7,594.2 349.7,596.3 V618.8 Q349.7,621 347,620 Q331,611 315,620 Q312.5,621 312.5,618.8 Z"/>
<path class="wf" d="M355.2,595.5 Q355.2,592.8 358,593.8 Q374.6,603 391.2,593.8 Q394,592.8 394,595.5 V618.9 Q394,621 391.9,621 H357.3 Q355.2,621 355.2,618.9 Z"/>
<path class="wf" d="M423.6,696 C425,668 432,652.7 442.2,652.7 C452.4,652.7 459.4,668 460.7,696 Z"/>
<path class="wf" d="M465,679.3 A16.4,16.4 0 0 1 473.4,664.7 L478.6,673.9 A5.8,5.8 0 0 0 475.6,679.1 Z"/>
<path class="wf" d="M489.4,664.7 A16.4,16.4 0 0 1 497.8,679.3 L487.2,679.1 A5.8,5.8 0 0 0 484.2,673.9 Z"/>
<path class="wf" d="M489.8,693.1 A16.4,16.4 0 0 1 473,693.1 L478.4,684 A5.8,5.8 0 0 0 484.4,684 Z"/>
<circle class="wf" cx="481.4" cy="679" r="4.7"/>
<rect class="wf" x="504.1" y="663.9" width="28" height="32.9" rx="3"/>
<rect class="wf" x="505.1" y="611.4" width="42" height="18.7" rx="3"/>
<rect class="wf" x="457.9" y="637.6" width="89.2" height="19.5" rx="3"/>
<polygon class="wf" points="554,605 588,605 588,610.5 585.2,630.2 557,630.2 554,610.5"/>
<path class="wf" d="M601,569.7 H628.5 C628.5,582 622.5,588.5 614.7,588.5 C607,588.5 601,582 601,569.7 Z"/>
<polygon class="wf" points="694,570.2 703.4,579.2 703.4,598.4 684.6,598.4 684.6,579.2"/>
<polygon class="wf" points="625.7,613.9 600.9,637.5 593.5,629.7 618.3,606.1"/>
<polygon class="wf" points="661.3,637.5 636.5,613.9 643.9,606.1 668.7,629.7"/>
<polygon class="wf" points="684.2,602.4 717,602.4 717,638 700.6,656.4 684.2,638"/>
<polygon class="wf" points="599,652 611,652 611,661 622,689 590,689 599,661"/>
<path class="wf" d="M614,647.6 C614,639 622,633 632.2,633 C642.4,633 650.4,639 650.4,647.6 H640 V670 H623 V647.6 Z"/>
<ellipse class="wf" cx="644.3" cy="699.2" rx="21.4" ry="12.9"/>
<path class="wf" d="M630,508.6 Q662,513.5 692.5,518 V506.6 L723.6,528.3 L692.5,551 V538.8 Q662,543 630,548.8 L643.6,528.6 Z"/>
<path class="wf" d="M655.8,548.6 L672,555 L688.4,548.6 V564.8 L672,558.6 L655.8,564.8 Z"/>
<polygon class="wf" points="708.6,546.4 720.8,558 720.8,571.2 711,580.4 701.4,571.2 701.4,557.5"/>
<ellipse class="wf" cx="609.2" cy="498.4" rx="16.1" ry="11.4"/>
<polygon class="wf" points="706.4,473.4 716.6,464 716.6,473.4"/>
<rect class="wf" x="447.3" y="505.7" width="32.2" height="12.4" rx="6.2"/>
<path class="wf" d="M518.4,508.4 Q523,518 533.8,522.4 Q523,527 518.4,536.6 Q514,527 503,522.4 Q514,518 518.4,508.4 Z"/>
<path class="wf" d="M511.1,537.3 A13.3,13.3 0 1 0 511.1,553.7 L506.6,546.3 Z"/>
<path class="wf" d="M525.6,560.8 V542 A11,11 0 0 1 547.6,542 V560.8 Z"/></g>
<rect x="123.5" y="311" width="77.7" height="5" rx="2.5" fill="#fff"/>
<rect x="123.5" y="321.5" width="77.7" height="52.4" rx="1.5" fill="#fff"/>
<rect x="126.6" y="383.2" width="60.3" height="5.2" rx="2.5" fill="#fff"/>
<rect x="126.6" y="394.5" width="60.3" height="38.5" rx="1.5" fill="#fff"/>
<path d="M290,328 L365.5,369.5" fill="none" stroke="#fff" stroke-width="4.6" stroke-linecap="round" stroke-linejoin="round"/>
<path d="M290,369.5 L365.5,328" fill="none" stroke="#fff" stroke-width="4.6" stroke-linecap="round" stroke-linejoin="round"/>
<path d="M310.8,320.3 A8.1,8.1 0 0 1 327,320.3 A8.1,8.1 0 0 1 343.2,320.3 H338 A2.9,2.9 0 0 0 332.2,320.3 H321.8 A2.9,2.9 0 0 0 316,320.3 Z" fill="#fff"/>
<rect x="375" y="333.5" width="40.7" height="5.2" rx="2.5" fill="#fff"/>
<rect x="375" y="344" width="40.7" height="28" rx="1.5" fill="#fff"/>
<rect x="430.5" y="339" width="22.4" height="5" rx="2.5" fill="#fff"/>
<rect x="430.5" y="349.5" width="22.4" height="16.9" rx="1.5" fill="#fff"/>
<path d="M466.2,338.5 Q474.3,347.6 478.3,347.6 Q482.3,347.6 490.4,338.5" fill="none" stroke="#fff" stroke-width="5.2" stroke-linecap="round" stroke-linejoin="round"/>
<path d="M466.2,363.5 Q474.3,354.4 478.3,354.4 Q482.3,354.4 490.4,363.5" fill="none" stroke="#fff" stroke-width="5.2" stroke-linecap="round" stroke-linejoin="round"/>
<path d="M504,346.5 L512,338.5 L520,346.5" fill="none" stroke="#fff" stroke-width="4.2" stroke-linecap="round" stroke-linejoin="round"/>
<path d="M550.5,313.6 L561,313.6" fill="none" stroke="#fff" stroke-width="4.6" stroke-linecap="round" stroke-linejoin="round"/>
<path d="M633.5,313.6 L645.5,313.6" fill="none" stroke="#fff" stroke-width="4.6" stroke-linecap="round" stroke-linejoin="round"/>
<path d="M569.2,308.6 L581.6,318.6" fill="none" stroke="#fff" stroke-width="4.2" stroke-linecap="round" stroke-linejoin="round"/>
<path d="M569.2,318.6 L581.6,308.6" fill="none" stroke="#fff" stroke-width="4.2" stroke-linecap="round" stroke-linejoin="round"/>
<path d="M591.4,308.6 L603.8,318.6" fill="none" stroke="#fff" stroke-width="4.2" stroke-linecap="round" stroke-linejoin="round"/>
<path d="M591.4,318.6 L603.8,308.6" fill="none" stroke="#fff" stroke-width="4.2" stroke-linecap="round" stroke-linejoin="round"/>
<path d="M613.6,308.6 L626,318.6" fill="none" stroke="#fff" stroke-width="4.2" stroke-linecap="round" stroke-linejoin="round"/>
<path d="M613.6,318.6 L626,308.6" fill="none" stroke="#fff" stroke-width="4.2" stroke-linecap="round" stroke-linejoin="round"/>
<path d="M620.5,345.5 L634,331.5 L647.5,345.5" fill="none" stroke="#fff" stroke-width="5" stroke-linecap="round" stroke-linejoin="round"/>
<path d="M659,316.5 L675,300.3 L691,316.5" fill="none" stroke="#fff" stroke-width="5.2" stroke-linecap="round" stroke-linejoin="round"/>
<path d="M658.4,355.4 Q669.1,364.8 674.4,364.8 Q679.7,364.8 690.4,355.4" fill="none" stroke="#fff" stroke-width="5.4" stroke-linecap="round" stroke-linejoin="round"/>
<path d="M658.4,374.9 Q669.1,365.6 674.4,365.6 Q679.7,365.6 690.4,374.9" fill="none" stroke="#fff" stroke-width="5.4" stroke-linecap="round" stroke-linejoin="round"/>
<polygon points="711,303.6 719.4,317.4 713.4,317.4 713.4,331 708.6,331 708.6,317.4 702.6,317.4" fill="#fff"/>
<path d="M706.5,354.5 V337.5 L715,354.5 V337.5" fill="none" stroke="#fff" stroke-width="3.2" stroke-linecap="round" stroke-linejoin="round"/>
<path d="M711.2,363.4 L711.2,373.8" fill="none" stroke="#fff" stroke-width="4" stroke-linecap="round" stroke-linejoin="round"/>
<path d="M668.6,385.4 L679.4,396.6" fill="none" stroke="#fff" stroke-width="5" stroke-linecap="round" stroke-linejoin="round"/>
<path d="M668.6,396.6 L679.4,385.4" fill="none" stroke="#fff" stroke-width="5" stroke-linecap="round" stroke-linejoin="round"/>
<path d="M687.4,385.4 L698.2,396.6" fill="none" stroke="#fff" stroke-width="5" stroke-linecap="round" stroke-linejoin="round"/>
<path d="M687.4,396.6 L698.2,385.4" fill="none" stroke="#fff" stroke-width="5" stroke-linecap="round" stroke-linejoin="round"/>
<path d="M706,385.4 L716.8,396.6" fill="none" stroke="#fff" stroke-width="5" stroke-linecap="round" stroke-linejoin="round"/>
<path d="M706,396.6 L716.8,385.4" fill="none" stroke="#fff" stroke-width="5" stroke-linecap="round" stroke-linejoin="round"/>
<circle cx="568.2" cy="395.2" r="3.6" fill="#fff"/>
<circle cx="578.7" cy="395.2" r="3.6" fill="#fff"/>
<circle cx="589.2" cy="395.2" r="3.6" fill="#fff"/>
<circle cx="599.7" cy="395.2" r="3.6" fill="#fff"/>
<path d="M509.6,384.4 L518.4,384.4" fill="none" stroke="#fff" stroke-width="3.8" stroke-linecap="round" stroke-linejoin="round"/>
<path d="M557.5,384.4 L567,384.4" fill="none" stroke="#fff" stroke-width="3.8" stroke-linecap="round" stroke-linejoin="round"/>
<path d="M529.4,377.8V390.4M538.4,377.8V390.4M547.4,377.8V390.4" fill="none" stroke="#fff" stroke-width="3.6" stroke-linecap="round" stroke-linejoin="round"/>
<path d="M465.8,397.3 V375.6 L473.5,389 L481.2,375.6 V397.3" fill="none" stroke="#fff" stroke-width="4.6" stroke-linecap="round" stroke-linejoin="round"/>
<path d="M488.3,397.3 V375.6 H491.2 A5.6,5.6 0 0 1 491.2,386.8 H488.3" fill="none" stroke="#fff" stroke-width="4.6" stroke-linecap="round" stroke-linejoin="round"/>
<path d="M364.4,387V396M372.8,387V396" fill="none" stroke="#fff" stroke-width="4.8" stroke-linecap="round" stroke-linejoin="round"/>
<circle cx="388.4" cy="390.5" r="3.6" fill="#fff"/>
<circle cx="399.1" cy="390.5" r="3.6" fill="#fff"/>
<circle cx="409.7" cy="390.5" r="3.6" fill="#fff"/>
<path d="M422.4,380 L434.8,391.8" fill="none" stroke="#fff" stroke-width="5.2" stroke-linecap="round" stroke-linejoin="round"/>
<path d="M422.4,391.8 L434.8,380" fill="none" stroke="#fff" stroke-width="5.2" stroke-linecap="round" stroke-linejoin="round"/>
<path d="M442.1,380 L454.5,391.8" fill="none" stroke="#fff" stroke-width="5.2" stroke-linecap="round" stroke-linejoin="round"/>
<path d="M442.1,391.8 L454.5,380" fill="none" stroke="#fff" stroke-width="5.2" stroke-linecap="round" stroke-linejoin="round"/>
<path d="M309,404.6 L351.5,428.4" fill="none" stroke="#fff" stroke-width="4.4" stroke-linecap="round" stroke-linejoin="round"/>
<path d="M309,428.4 L351.5,404.6" fill="none" stroke="#fff" stroke-width="4.4" stroke-linecap="round" stroke-linejoin="round"/>
<path d="M366.2,421.5V411H383.2V421.5M374.7,411V421.5" fill="none" stroke="#fff" stroke-width="3.8" stroke-linecap="round" stroke-linejoin="round"/>
<rect x="393" y="400" width="52" height="7" rx="3.5" fill="#fff"/>
<rect x="393" y="425.5" width="52" height="7.5" rx="3.5" fill="#fff"/>
<circle cx="419" cy="416.2" r="6" fill="#fff"/>
<circle cx="451.3" cy="416.2" r="7.2" fill="#fff"/>
<circle cx="472.5" cy="416.2" r="7.2" fill="#fff"/>
<rect x="451.3" y="412.8" width="21.2" height="6.8" rx="0" fill="#fff"/>
<path d="M485.2,431.2 A26,26 0 0 1 529.2,431.2" fill="none" stroke="#fff" stroke-width="4.8" stroke-linecap="round" stroke-linejoin="round"/>
<path d="M531.6,404 L551,418.6 L553.6,413.4 L577.4,429.8" fill="none" stroke="#fff" stroke-width="5.4" stroke-linecap="round" stroke-linejoin="round"/>
<path d="M627.5,407.5 L662.5,426.5" fill="none" stroke="#fff" stroke-width="4.4" stroke-linecap="round" stroke-linejoin="round"/>
<path d="M627.5,426.5 L662.5,407.5" fill="none" stroke="#fff" stroke-width="4.4" stroke-linecap="round" stroke-linejoin="round"/>
<path d="M680,417.2 L706,417.2" fill="none" stroke="#fff" stroke-width="4.4" stroke-linecap="round" stroke-linejoin="round"/>
<path d="M674,410.6 Q679.5,410.6 679.5,417.2 Q679.5,423.8 674,423.8" fill="none" stroke="#fff" stroke-width="4.4" stroke-linecap="round" stroke-linejoin="round"/>
<path d="M712,410.6 Q706.5,410.6 706.5,417.2 Q706.5,423.8 712,423.8" fill="none" stroke="#fff" stroke-width="4.4" stroke-linecap="round" stroke-linejoin="round"/>
<path d="M304.2,544 V529.5 L313.5,544 V529.5" fill="none" stroke="#fff" stroke-width="3.4" stroke-linecap="round" stroke-linejoin="round"/>
<path d="M291.4,563 L296.4,555.2 L301.4,563" fill="none" stroke="#fff" stroke-width="7.6" stroke-linecap="round" stroke-linejoin="round"/>
<path d="M318.2,563 L323.2,555.2 L328.2,563" fill="none" stroke="#fff" stroke-width="7.6" stroke-linecap="round" stroke-linejoin="round"/>
<path d="M343.8,563 L348.8,555.2 L353.8,563" fill="none" stroke="#fff" stroke-width="7.6" stroke-linecap="round" stroke-linejoin="round"/>
<path d="M291.4,583.8 L296.4,576 L301.4,583.8" fill="none" stroke="#fff" stroke-width="7.6" stroke-linecap="round" stroke-linejoin="round"/>
<path d="M399.5,573.3 L411.9,585.7" fill="none" stroke="#fff" stroke-width="5.4" stroke-linecap="round" stroke-linejoin="round"/>
<path d="M399.5,585.7 L411.9,573.3" fill="none" stroke="#fff" stroke-width="5.4" stroke-linecap="round" stroke-linejoin="round"/>
<path d="M405.2,599.6 L405.2,627 L412.4,627" fill="none" stroke="#fff" stroke-width="7.6" stroke-linecap="round" stroke-linejoin="round"/>
<path d="M419.4,613.2 A19.7,19.7 0 0 1 419.4,652.6 V645.2 A12.4,12.4 0 0 0 419.4,620.4 Z" fill="#fff"/>
<rect x="437" y="628.6" width="12" height="8" rx="1" fill="#fff"/>
<path d="M377.9,637.5 H416.2 C412,649.5 382,649.5 377.9,637.5 Z" fill="#fff"/>
<path d="M389.7,665.1 L389.7,679.3" fill="none" stroke="#fff" stroke-width="5.8" stroke-linecap="round" stroke-linejoin="round"/>
<path d="M411.2,665.1 L411.2,679.3" fill="none" stroke="#fff" stroke-width="5.8" stroke-linecap="round" stroke-linejoin="round"/>
<path d="M400,657.5 L400,686.3" fill="none" stroke="#fff" stroke-width="6.3" stroke-linecap="round" stroke-linejoin="round"/>
<polygon points="539.2,665.6 565.6,678.6 539.2,691" fill="#fff"/>
<rect x="539.2" y="685" width="5.2" height="11.4" rx="0.5" fill="#fff"/>
<rect x="449.4" y="571.5" width="22.6" height="6" rx="1.5" fill="#fff"/>
<rect x="456.3" y="575" width="9.4" height="15" rx="0" fill="#fff"/>
<rect x="449.4" y="588" width="22.6" height="6.5" rx="1.5" fill="#fff"/>
<path d="M482.5,575.6 L492.1,571.7 L501.8,575.6" fill="none" stroke="#fff" stroke-width="6.5" stroke-linecap="round" stroke-linejoin="round"/>
<path d="M482.5,589.2 L492.1,594.5 L501.8,589.2" fill="none" stroke="#fff" stroke-width="6.5" stroke-linecap="round" stroke-linejoin="round"/>
<path d="M514.5,572.5 L535,572.5" fill="none" stroke="#fff" stroke-width="6.5" stroke-linecap="round" stroke-linejoin="round"/>
<path d="M524.8,572.5 L524.8,586" fill="none" stroke="#fff" stroke-width="7" stroke-linecap="round" stroke-linejoin="round"/>
<path d="M513.5,593 L524.8,586.5 L536,593" fill="none" stroke="#fff" stroke-width="6" stroke-linecap="round" stroke-linejoin="round"/>
<path d="M544,583.2 L556,576.2 L568,583.2" fill="none" stroke="#fff" stroke-width="5.5" stroke-linecap="round" stroke-linejoin="round"/>
<polygon points="453.6,609.2 462,609.2 471.2,605.8 471.2,627 462,625 453.6,625" fill="#fff"/>
<path d="M479.5,605.5 Q481.8,603.6 484,606.2 L485.8,609.8 Q488,606.5 490.2,609.8 L492,606.2 Q494.2,603.6 496.5,605.5 V612 Q496.5,622 488,622 Q479.5,622 479.5,612 Z" fill="#fff"/>
<path d="M570,570.6 H593.6 V576.2 H570 Z" fill="#fff"/>
<path d="M573,595 A9.25,9.25 0 0 1 591.5,595" fill="none" stroke="#fff" stroke-width="7.8" stroke-linecap="round" stroke-linejoin="round"/>
<rect x="603.6" y="591" width="22.8" height="5" rx="0.5" fill="#fff"/>
<rect x="636" y="569.8" width="5.8" height="26.6" rx="0.5" fill="#fff"/>
<rect x="648.4" y="569.8" width="5.8" height="26.6" rx="0.5" fill="#fff"/>
<path d="M668.7,571.5 L668.7,595.5" fill="none" stroke="#fff" stroke-width="4.6" stroke-linecap="round" stroke-linejoin="round"/>
<path d="M661,583.5 L676.5,583.5" fill="none" stroke="#fff" stroke-width="4.6" stroke-linecap="round" stroke-linejoin="round"/>
<path d="M566,636.8 H579.6 V646.45 A13.4,13.4 0 1 1 566,646.45 Z" fill="#fff"/>
<rect x="572.8" y="686.3" width="6.8" height="5.7" rx="0" fill="#fff"/>
<ellipse cx="576" cy="698" rx="14.6" ry="8.2" fill="#fff"/>
<circle cx="660" cy="660.3" r="7.3" fill="#fff"/>
<circle cx="677" cy="660.3" r="7.3" fill="#fff"/>
<circle cx="668.5" cy="651.8" r="7.3" fill="#fff"/>
<circle cx="668.5" cy="668.8" r="7.3" fill="#fff"/>
<rect x="660" y="652" width="17" height="16.6" rx="0" fill="#fff"/>
<circle cx="688.5" cy="688" r="9.3" fill="#fff"/>
<circle cx="709.5" cy="688" r="9.3" fill="#fff"/>
<circle cx="699" cy="677.5" r="9.3" fill="#fff"/>
<circle cx="699" cy="698.5" r="9.3" fill="#fff"/>
<rect x="688.5" y="677.5" width="21" height="21" rx="0" fill="#fff"/>
<path d="M633.6,500.5 V486.2 H646.3 V497.2 H656.3 V486.2 H670.3 V497.2 H680.3 V486.2 H694.3 V497.2 H704.1 V486.2 H717 V500.5" fill="none" stroke="#fff" stroke-width="6" stroke-linecap="round" stroke-linejoin="round"/>
<circle cx="595.2" cy="518.6" r="5" fill="#fff"/>
<circle cx="607.9" cy="518.6" r="5" fill="#fff"/>
<circle cx="620.6" cy="518.6" r="5" fill="#fff"/>
<rect x="455.8" y="457.3" width="23.8" height="5.8" rx="2" fill="#fff"/>
<rect x="465.1" y="447.8" width="5.7" height="23.8" rx="2" fill="#fff"/>
<rect x="493.3" y="442.6" width="7.5" height="32.8" rx="1.5" fill="#fff"/>
<path d="M508.6,462.4 A9.5,9.5 0 0 0 525.6,462.4" fill="none" stroke="#fff" stroke-width="4.2" stroke-linecap="round" stroke-linejoin="round"/>
<path d="M516.8,449.8 L516.8,467.5" fill="none" stroke="#fff" stroke-width="4.2" stroke-linecap="round" stroke-linejoin="round"/>
<path d="M511.5,455.4 L522.5,455.4" fill="none" stroke="#fff" stroke-width="4.2" stroke-linecap="round" stroke-linejoin="round"/>
<rect x="533.4" y="457.4" width="48" height="5.8" rx="2" fill="#fff"/>
<rect x="553.4" y="442.6" width="8.2" height="32.8" rx="1.5" fill="#fff"/>
<path d="M579.6,476 L600,449.7 L621.2,476" fill="none" stroke="#fff" stroke-width="5.2" stroke-linecap="round" stroke-linejoin="round"/>
<polygon points="600,463.8 609.2,472.2 609.2,487 600,480.6 590.8,487 590.8,472.2" fill="#fff"/>
<path d="M648.5,454 A8.2,8.2 0 1 0 648.5,465.8" fill="none" stroke="#fff" stroke-width="5.2" stroke-linecap="round" stroke-linejoin="round"/>
<path d="M668,445 L693.2,436.2 L718.5,445" fill="none" stroke="#fff" stroke-width="5.5" stroke-linecap="round" stroke-linejoin="round"/>
<path d="M686,449.6 A14,14 0 0 0 685.6,474.4" fill="none" stroke="#fff" stroke-width="4.4" stroke-linecap="round" stroke-linejoin="round"/>
<path d="M686.8,453 L697,453 L699.3,457.4 L696.5,461.6 L691,461.6" fill="none" stroke="#fff" stroke-width="4.4" stroke-linecap="round" stroke-linejoin="round"/>
<path d="M691,461.8 L707.5,461.8" fill="none" stroke="#fff" stroke-width="4.4" stroke-linecap="round" stroke-linejoin="round"/>
<path d="M489,503.2 L519,483.4" fill="none" stroke="#fff" stroke-width="5" stroke-linecap="round" stroke-linejoin="round"/>
<path d="M537.6,489.6 L549.6,489.6" fill="none" stroke="#fff" stroke-width="6.2" stroke-linecap="round" stroke-linejoin="round"/>
<path d="M543.6,490 L543.6,501.6" fill="none" stroke="#fff" stroke-width="5.6" stroke-linecap="round" stroke-linejoin="round"/>
<path d="M567.4,514.5 L567.4,493.5 L570.5,490.6 L580.2,490.6 L580.2,496.5" fill="none" stroke="#fff" stroke-width="5.6" stroke-linecap="round" stroke-linejoin="round"/>
<path d="M576.5,505.8 L582.3,505.8" fill="none" stroke="#fff" stroke-width="5.6" stroke-linecap="round" stroke-linejoin="round"/>
<path d="M563.2,516.8 L571.2,516.8" fill="none" stroke="#fff" stroke-width="4.8" stroke-linecap="round" stroke-linejoin="round"/>
<polygon points="454.4,536.2 475.6,536.2 468.2,550.6 468.2,560.2 462.6,560.2 462.6,550.6" fill="#fff"/>
<rect x="569.6" y="527.6" width="5.6" height="35" rx="1" fill="#fff"/>
<rect x="555.2" y="543" width="34.8" height="5.2" rx="1" fill="#fff"/>
<path d="M597.6,539.6 Q615.2,545.5 597.6,551.4" fill="none" stroke="#fff" stroke-width="4.8" stroke-linecap="round" stroke-linejoin="round"/>
<path d="M622,539.6 Q604.4,545.5 622,551.4" fill="none" stroke="#fff" stroke-width="4.8" stroke-linecap="round" stroke-linejoin="round"/>
<line x1="203.5" y1="348.5" x2="210.5" y2="348.5" stroke="#222" stroke-width="0.9"/>
<line x1="119.5" y1="414.3" x2="123" y2="414.3" stroke="#222" stroke-width="0.9"/>
<line x1="190.7" y1="414.3" x2="194" y2="414.3" stroke="#222" stroke-width="0.9"/>
<line x1="364" y1="358.7" x2="371.2" y2="358.7" stroke="#222" stroke-width="0.9"/>
<line x1="419.5" y1="358.7" x2="426.7" y2="358.7" stroke="#222" stroke-width="0.9"/>
<line x1="395.5" y1="375.8" x2="395.5" y2="380.5" stroke="#222" stroke-width="0.9"/>
<line x1="456.7" y1="358.7" x2="462" y2="358.7" stroke="#222" stroke-width="0.9"/>
<line x1="441.7" y1="370.2" x2="441.7" y2="375.5" stroke="#222" stroke-width="0.9"/>
<line x1="586" y1="342.3" x2="592" y2="342.3" stroke="#222" stroke-width="1.0"/>
<line x1="604.4" y1="342.3" x2="610.5" y2="342.3" stroke="#222" stroke-width="1.0"/>
<line x1="598.2" y1="330.2" x2="598.2" y2="336" stroke="#222" stroke-width="1.0"/>
<line x1="598.2" y1="348.6" x2="598.2" y2="354.4" stroke="#222" stroke-width="1.0"/>
<text x="604" y="337" font-size="8.5" text-anchor="middle" fill="#111" font-weight="normal" font-family="Liberation Sans" >2</text>
<line x1="563.5" y1="370.5" x2="573" y2="370.5" stroke="#222" stroke-width="1.0"/>
<line x1="595.4" y1="370.5" x2="605" y2="370.5" stroke="#222" stroke-width="1.0"/>
<line x1="584.2" y1="351.5" x2="584.2" y2="359" stroke="#222" stroke-width="1.0"/>
<line x1="584.2" y1="382" x2="584.2" y2="389.5" stroke="#222" stroke-width="1.0"/>
<text x="591.5" y="361" font-size="8.5" text-anchor="middle" fill="#111" font-weight="normal" font-family="Liberation Sans" >5</text>
<line x1="76.8" y1="486.4" x2="81.5" y2="486.4" stroke="#161616" stroke-width="1.25"/>
<line x1="117.8" y1="486.4" x2="122" y2="486.4" stroke="#161616" stroke-width="1.25"/>
<line x1="99.7" y1="463" x2="99.7" y2="470" stroke="#161616" stroke-width="1.25"/>
<line x1="99.7" y1="503" x2="99.7" y2="509.5" stroke="#161616" stroke-width="1.25"/>
<text x="99.5" y="519.5" font-size="11" text-anchor="middle" fill="#111" font-family="Liberation Sans">9<tspan font-size="9.0">ha</tspan></text>
<line x1="149.2" y1="447" x2="149.2" y2="454" stroke="#161616" stroke-width="1.25"/>
<line x1="149.2" y1="487" x2="149.2" y2="493.5" stroke="#161616" stroke-width="1.25"/>
<line x1="122.5" y1="470.2" x2="127.5" y2="470.2" stroke="#161616" stroke-width="1.25"/>
<line x1="171" y1="470.2" x2="175.5" y2="470.2" stroke="#161616" stroke-width="1.25"/>
<text x="149.5" y="504.5" font-size="11" text-anchor="middle" fill="#111" font-family="Liberation Sans">12<tspan font-size="9.0">ha</tspan></text>
<line x1="195" y1="436" x2="195" y2="442.5" stroke="#161616" stroke-width="1.25"/>
<line x1="195" y1="468.5" x2="195" y2="474.5" stroke="#161616" stroke-width="1.25"/>
<line x1="175" y1="455.2" x2="180" y2="455.2" stroke="#161616" stroke-width="1.25"/>
<line x1="210" y1="455.2" x2="214.5" y2="455.2" stroke="#161616" stroke-width="1.25"/>
<text x="196.5" y="485" font-size="11" text-anchor="middle" fill="#111" font-family="Liberation Sans">4<tspan font-size="9.0">ha</tspan></text>
<line x1="220.4" y1="448" x2="220.4" y2="485.5" stroke="#333" stroke-width="1.0"/>
<line x1="220.4" y1="485.5" x2="257.5" y2="485.5" stroke="#333" stroke-width="1.0"/>
<text x="220.2" y="446.5" font-size="11" text-anchor="middle" fill="#111" font-weight="normal" font-family="Liberation Sans" >x</text>
<text x="263.5" y="489.5" font-size="12" text-anchor="middle" fill="#111" font-weight="normal" font-family="Liberation Sans" >y</text>
<line x1="247" y1="433" x2="247" y2="439.5" stroke="#161616" stroke-width="1.25"/>
<line x1="247" y1="465.5" x2="247" y2="471.5" stroke="#161616" stroke-width="1.25"/>
<line x1="224.5" y1="452.2" x2="229.5" y2="452.2" stroke="#161616" stroke-width="1.25"/>
<line x1="265" y1="452.2" x2="269.5" y2="452.2" stroke="#161616" stroke-width="1.25"/>
<text x="248" y="481.5" font-size="11" text-anchor="middle" fill="#111" font-family="Liberation Sans">6<tspan font-size="9.0">ha</tspan></text>
<line x1="194" y1="414.3" x2="201.5" y2="414.3" stroke="#161616" stroke-width="1.25"/>
<line x1="220.4" y1="490" x2="220.4" y2="496.5" stroke="#161616" stroke-width="1.25"/>
<line x1="220.4" y1="522.5" x2="220.4" y2="528.5" stroke="#161616" stroke-width="1.25"/>
<line x1="194" y1="509.2" x2="198.5" y2="509.2" stroke="#161616" stroke-width="1.25"/>
<line x1="242" y1="509.2" x2="246.5" y2="509.2" stroke="#161616" stroke-width="1.25"/>
<text x="220.5" y="537" font-size="11" text-anchor="middle" fill="#111" font-family="Liberation Sans">8<tspan font-size="9.0">ha</tspan></text>
<line x1="258.7" y1="521" x2="258.7" y2="527.5" stroke="#161616" stroke-width="1.25"/>
<line x1="258.7" y1="575.5" x2="258.7" y2="581.5" stroke="#161616" stroke-width="1.25"/>
<line x1="228" y1="551.5" x2="233" y2="551.5" stroke="#161616" stroke-width="1.25"/>
<line x1="283.5" y1="551.5" x2="289" y2="551.5" stroke="#161616" stroke-width="1.25"/>
<text x="259.5" y="592" font-size="11" text-anchor="middle" fill="#111" font-family="Liberation Sans">25<tspan font-size="9.0">ha</tspan></text>
<line x1="308.6" y1="521" x2="308.6" y2="550.5" stroke="#161616" stroke-width="1.25"/>
<line x1="336.1" y1="522" x2="336.1" y2="552" stroke="#161616" stroke-width="1.25"/>
<line x1="296.4" y1="560.4" x2="296.4" y2="569.6" stroke="#161616" stroke-width="1.25"/>
<line x1="323.2" y1="561" x2="323.2" y2="575.6" stroke="#161616" stroke-width="1.25"/>
<line x1="348.8" y1="559" x2="348.8" y2="574.8" stroke="#161616" stroke-width="1.25"/>
<line x1="245.3" y1="615" x2="254.5" y2="615" stroke="#161616" stroke-width="1.25"/>
<line x1="226.1" y1="615" x2="216.9" y2="615" stroke="#161616" stroke-width="1.25"/>
<line x1="235.7" y1="624.6" x2="235.7" y2="633.8" stroke="#161616" stroke-width="1.25"/>
<line x1="235.7" y1="605.4" x2="235.7" y2="596.2" stroke="#161616" stroke-width="1.25"/>
<text x="246" y="604.5" font-size="9.5" text-anchor="middle" fill="#111" font-weight="normal" font-family="Liberation Sans" >4</text>
<line x1="298.6" y1="615" x2="307.8" y2="615" stroke="#161616" stroke-width="1.25"/>
<line x1="271.8" y1="615" x2="262.6" y2="615" stroke="#161616" stroke-width="1.25"/>
<line x1="285.2" y1="628.4" x2="285.2" y2="637.6" stroke="#161616" stroke-width="1.25"/>
<line x1="285.2" y1="601.6" x2="285.2" y2="592.4" stroke="#161616" stroke-width="1.25"/>
<text x="294" y="600.5" font-size="9.5" text-anchor="middle" fill="#111" font-weight="normal" font-family="Liberation Sans" >6</text>
<line x1="278.8" y1="661" x2="288" y2="661" stroke="#161616" stroke-width="1.25"/>
<line x1="230.2" y1="661" x2="221" y2="661" stroke="#161616" stroke-width="1.25"/>
<line x1="254.5" y1="685.3" x2="254.5" y2="694.5" stroke="#161616" stroke-width="1.25"/>
<line x1="254.5" y1="636.7" x2="254.5" y2="627.5" stroke="#161616" stroke-width="1.25"/>
<line x1="326.5" y1="661" x2="335.7" y2="661" stroke="#161616" stroke-width="1.25"/>
<line x1="287.5" y1="661" x2="278.3" y2="661" stroke="#161616" stroke-width="1.25"/>
<line x1="307" y1="680.5" x2="307" y2="689.7" stroke="#161616" stroke-width="1.25"/>
<line x1="307" y1="641.5" x2="307" y2="632.3" stroke="#161616" stroke-width="1.25"/>
<line x1="370.8" y1="661" x2="380" y2="661" stroke="#161616" stroke-width="1.25"/>
<line x1="338.6" y1="661" x2="329.4" y2="661" stroke="#161616" stroke-width="1.25"/>
<line x1="354.7" y1="677.1" x2="354.7" y2="686.3" stroke="#161616" stroke-width="1.25"/>
<line x1="354.7" y1="644.9" x2="354.7" y2="635.7" stroke="#161616" stroke-width="1.25"/>
<text x="268" y="640" font-size="10" text-anchor="middle" fill="#111" font-weight="normal" font-family="Liberation Sans" >12</text>
<text x="320.5" y="642" font-size="10" text-anchor="middle" fill="#111" font-weight="normal" font-family="Liberation Sans" >10</text>
<text x="364" y="645" font-size="10" text-anchor="middle" fill="#111" font-weight="normal" font-family="Liberation Sans" >8</text>
<circle cx="364.5" cy="626.2" r="2.8" fill="none" stroke="#222" stroke-width="0.9"/>
<circle cx="374.3" cy="626.2" r="2.8" fill="none" stroke="#222" stroke-width="0.9"/>
<circle cx="384.6" cy="626.2" r="2.8" fill="none" stroke="#222" stroke-width="0.9"/>
<text x="488.3" y="635.4" font-size="9.4" text-anchor="middle" fill="#111" font-weight="normal" font-family="Liberation Sans" >W Mi</text>
<line x1="600.5" y1="611.5" x2="604.5" y2="615.5" stroke="#161616" stroke-width="1.25"/>
<line x1="602.8" y1="609.5" x2="606.8" y2="613.5" stroke="#161616" stroke-width="1.25"/>
<line x1="612.5" y1="627.8" x2="616.5" y2="631.8" stroke="#161616" stroke-width="1.25"/>
<line x1="614.8" y1="625.8" x2="618.8" y2="629.8" stroke="#161616" stroke-width="1.25"/>
<line x1="662.5" y1="611.5" x2="658.5" y2="615.5" stroke="#161616" stroke-width="1.25"/>
<line x1="660.2" y1="609.5" x2="656.2" y2="613.5" stroke="#161616" stroke-width="1.25"/>
<line x1="650.5" y1="627.8" x2="646.5" y2="631.8" stroke="#161616" stroke-width="1.25"/>
<line x1="648.2" y1="625.8" x2="644.2" y2="629.8" stroke="#161616" stroke-width="1.25"/>
</svg></body></html>
